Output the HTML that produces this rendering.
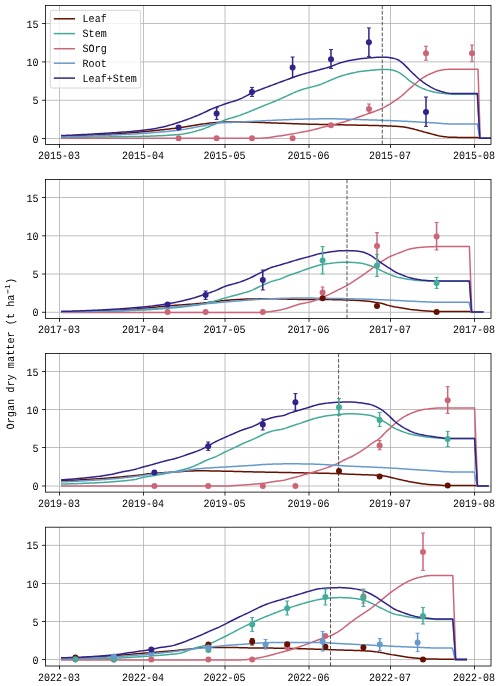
<!DOCTYPE html>
<html lang="en">
<head>
<meta charset="utf-8">
<title>Organ dry matter</title>
<style>
html,body{margin:0;padding:0;background:#fff;}
body{width:500px;height:686px;overflow:hidden;}
svg{display:block;will-change:transform;}
svg text{font-family:"Liberation Mono",monospace;font-size:11.2px;fill:#000;text-rendering:geometricPrecision;}
</style>
</head>
<body>
<svg width="500" height="686" viewBox="0 0 500 686">
<rect width="500" height="686" fill="#fff"/>
<defs>
<clipPath id="c0"><rect x="45.5" y="5.5" width="445.5" height="139"/></clipPath>
<clipPath id="c1"><rect x="45.5" y="179.5" width="445.5" height="138.9"/></clipPath>
<clipPath id="c2"><rect x="45.5" y="353.5" width="445.5" height="138.6"/></clipPath>
<clipPath id="c3"><rect x="45.5" y="527.2" width="445.5" height="138.8"/></clipPath>
</defs>
<!-- panel 1 -->
<path d="M59.5 5.5V144.5M143.5 5.5V144.5M225 5.5V144.5M309 5.5V144.5M390.5 5.5V144.5M474.5 5.5V144.5M45.5 138.5H491M45.5 100.25H491M45.5 61.9H491M45.5 23.5H491" stroke="#b0b0b0" stroke-width="0.8" fill="none"/>
<g clip-path="url(#c0)">
<path d="M61 136.4L62.5 136.36L64.01 136.32L65.51 136.27L67.01 136.22L68.52 136.17L70.02 136.12L71.52 136.07L73.03 136.02L74.53 135.96L76.03 135.9L77.54 135.84L79.04 135.78L80.54 135.72L82.05 135.66L83.55 135.59L85.05 135.52L86.56 135.46L88.06 135.39L89.56 135.32L91.06 135.25L92.57 135.17L94.07 135.1L95.57 135.02L97.08 134.95L98.58 134.87L100.08 134.8L101.59 134.72L103.09 134.64L104.59 134.55L106.1 134.47L107.6 134.38L109.1 134.29L110.61 134.19L112.11 134.1L113.61 134L115.12 133.9L116.62 133.8L118.12 133.7L119.63 133.6L121.13 133.49L122.63 133.38L124.14 133.27L125.64 133.16L127.14 133.04L128.65 132.93L130.15 132.81L131.65 132.69L133.16 132.57L134.66 132.45L136.16 132.32L137.67 132.2L139.17 132.07L140.67 131.94L142.18 131.81L143.68 131.68L145.18 131.54L146.69 131.4L148.19 131.26L149.69 131.11L151.19 130.96L152.7 130.81L154.2 130.66L155.7 130.5L157.21 130.34L158.71 130.18L160.21 130.01L161.72 129.85L163.22 129.68L164.72 129.5L166.23 129.33L167.73 129.15L169.23 128.97L170.74 128.79L172.24 128.6L173.74 128.41L175.25 128.22L176.75 128.03L178.25 127.83L179.76 127.63L181.26 127.43L182.76 127.21L184.27 126.97L185.77 126.73L187.27 126.48L188.78 126.22L190.28 125.96L191.78 125.7L193.29 125.44L194.79 125.19L196.29 124.95L197.8 124.72L199.3 124.5L200.8 124.29L202.31 124.08L203.81 123.88L205.31 123.68L206.82 123.48L208.32 123.29L209.82 123.11L211.32 122.94L212.83 122.79L214.33 122.65L215.83 122.53L217.34 122.41L218.84 122.29L220.34 122.18L221.85 122.09L223.35 122.03L224.85 122L226.36 122L227.86 122L229.36 122L230.87 122L232.37 122L233.87 122L235.38 122L236.88 122L238.38 122L239.89 122L241.39 122L242.89 122.01L244.4 122.03L245.9 122.05L247.4 122.07L248.91 122.1L250.41 122.14L251.91 122.18L253.42 122.22L254.92 122.27L256.42 122.31L257.93 122.37L259.43 122.42L260.93 122.48L262.44 122.53L263.94 122.59L265.44 122.65L266.95 122.71L268.45 122.77L269.95 122.83L271.45 122.89L272.96 122.95L274.46 123.01L275.96 123.06L277.47 123.12L278.97 123.17L280.47 123.22L281.98 123.26L283.48 123.31L284.98 123.37L286.49 123.42L287.99 123.47L289.49 123.53L291 123.58L292.5 123.64L294 123.69L295.51 123.74L297.01 123.8L298.51 123.85L300.02 123.9L301.52 123.95L303.02 124L304.53 124.05L306.03 124.09L307.53 124.14L309.04 124.18L310.54 124.21L312.04 124.25L313.55 124.28L315.05 124.31L316.55 124.34L318.06 124.37L319.56 124.4L321.06 124.43L322.57 124.46L324.07 124.49L325.57 124.51L327.08 124.54L328.58 124.57L330.08 124.6L331.58 124.63L333.09 124.66L334.59 124.69L336.09 124.72L337.6 124.75L339.1 124.78L340.6 124.81L342.11 124.83L343.61 124.86L345.11 124.89L346.62 124.92L348.12 124.95L349.62 124.98L351.13 125.01L352.63 125.04L354.13 125.07L355.64 125.1L357.14 125.14L358.64 125.17L360.15 125.2L361.65 125.24L363.15 125.27L364.66 125.3L366.16 125.34L367.66 125.37L369.17 125.4L370.67 125.44L372.17 125.47L373.68 125.51L375.18 125.54L376.68 125.58L378.19 125.62L379.69 125.66L381.19 125.7L382.7 125.75L384.2 125.79L385.7 125.84L387.21 125.9L388.71 125.95L390.21 126.01L391.71 126.07L393.22 126.14L394.72 126.22L396.22 126.32L397.73 126.42L399.23 126.53L400.73 126.67L402.24 126.85L403.74 127.06L405.24 127.3L406.75 127.57L408.25 127.86L409.75 128.15L411.26 128.47L412.76 128.83L414.26 129.22L415.77 129.63L417.27 130.05L418.77 130.47L420.28 130.87L421.78 131.28L423.28 131.69L424.79 132.1L426.29 132.51L427.79 132.92L429.3 133.32L430.8 133.71L432.3 134.12L433.81 134.54L435.31 134.95L436.81 135.34L438.32 135.68L439.82 135.97L441.32 136.21L442.83 136.45L444.33 136.67L445.83 136.86L447.34 137.03L448.84 137.14L450.34 137.21L451.84 137.26L453.35 137.3L454.85 137.34L456.35 137.37L457.86 137.39L459.36 137.4L460.86 137.4L462.37 137.4L463.87 137.4L465.37 137.4L466.88 137.4L468.38 137.4L469.88 137.4L471.39 137.4L472.89 137.4L474.39 137.4L475.9 137.4L477.4 137.4L477.4 137.4L479.8 138.3L490.8 138.3" stroke="#661100" stroke-width="1.5" fill="none" stroke-linejoin="round"/>
<path d="M61 137.4L62.5 137.39L64.01 137.38L65.51 137.36L67.01 137.35L68.52 137.34L70.02 137.32L71.52 137.31L73.03 137.3L74.53 137.28L76.03 137.27L77.54 137.25L79.04 137.24L80.54 137.22L82.05 137.2L83.55 137.19L85.05 137.17L86.56 137.16L88.06 137.14L89.56 137.12L91.06 137.11L92.57 137.09L94.07 137.07L95.57 137.05L97.08 137.04L98.58 137.02L100.08 137L101.59 136.98L103.09 136.96L104.59 136.95L106.1 136.93L107.6 136.91L109.1 136.89L110.61 136.87L112.11 136.86L113.61 136.84L115.12 136.82L116.62 136.8L118.12 136.78L119.63 136.76L121.13 136.74L122.63 136.72L124.14 136.7L125.64 136.67L127.14 136.65L128.65 136.62L130.15 136.6L131.65 136.57L133.16 136.54L134.66 136.51L136.16 136.48L137.67 136.45L139.17 136.42L140.67 136.38L142.18 136.35L143.68 136.31L145.18 136.27L146.69 136.23L148.19 136.18L149.69 136.13L151.19 136.08L152.7 136.03L154.2 135.97L155.7 135.91L157.21 135.85L158.71 135.78L160.21 135.71L161.72 135.64L163.22 135.56L164.72 135.48L166.23 135.4L167.73 135.31L169.23 135.21L170.74 135.11L172.24 135.01L173.74 134.9L175.25 134.79L176.75 134.67L178.25 134.55L179.76 134.42L181.26 134.27L182.76 134.09L184.27 133.86L185.77 133.59L187.27 133.3L188.78 132.98L190.28 132.63L191.78 132.26L193.29 131.87L194.79 131.47L196.29 131.05L197.8 130.63L199.3 130.2L200.8 129.76L202.31 129.27L203.81 128.74L205.31 128.16L206.82 127.56L208.32 126.94L209.82 126.31L211.32 125.68L212.83 125.07L214.33 124.46L215.83 123.82L217.34 123.16L218.84 122.51L220.34 121.86L221.85 121.23L223.35 120.62L224.85 120.05L226.36 119.53L227.86 119.03L229.36 118.56L230.87 118.11L232.37 117.67L233.87 117.23L235.38 116.78L236.88 116.32L238.38 115.85L239.89 115.34L241.39 114.8L242.89 114.24L244.4 113.66L245.9 113.07L247.4 112.47L248.91 111.86L250.41 111.25L251.91 110.64L253.42 110.02L254.92 109.4L256.42 108.77L257.93 108.14L259.43 107.5L260.93 106.87L262.44 106.24L263.94 105.63L265.44 105.02L266.95 104.42L268.45 103.83L269.95 103.24L271.45 102.65L272.96 102.05L274.46 101.44L275.96 100.81L277.47 100.17L278.97 99.5L280.47 98.82L281.98 98.14L283.48 97.45L284.98 96.76L286.49 96.08L287.99 95.4L289.49 94.73L291 94.04L292.5 93.34L294 92.66L295.51 91.99L297.01 91.34L298.51 90.74L300.02 90.19L301.52 89.7L303.02 89.23L304.53 88.8L306.03 88.4L307.53 88.01L309.04 87.63L310.54 87.26L312.04 86.89L313.55 86.5L315.05 86.1L316.55 85.68L318.06 85.23L319.56 84.75L321.06 84.22L322.57 83.63L324.07 82.99L325.57 82.33L327.08 81.66L328.58 81L330.08 80.37L331.58 79.74L333.09 79.1L334.59 78.47L336.09 77.85L337.6 77.26L339.1 76.71L340.6 76.2L342.11 75.73L343.61 75.28L345.11 74.85L346.62 74.44L348.12 74.05L349.62 73.69L351.13 73.34L352.63 73L354.13 72.68L355.64 72.37L357.14 72.08L358.64 71.82L360.15 71.58L361.65 71.36L363.15 71.16L364.66 70.97L366.16 70.8L367.66 70.63L369.17 70.48L370.67 70.34L372.17 70.19L373.68 70.05L375.18 69.92L376.68 69.8L378.19 69.7L379.69 69.61L381.19 69.54L382.7 69.48L384.2 69.43L385.7 69.4L387.21 69.43L388.71 69.55L390.21 69.74L391.71 69.96L393.22 70.25L394.72 70.69L396.22 71.24L397.73 71.88L399.23 72.63L400.73 73.59L402.24 74.68L403.74 75.81L405.24 76.98L406.75 78.28L408.25 79.59L409.75 80.81L411.26 81.91L412.76 82.95L414.26 83.93L415.77 84.86L417.27 85.75L418.77 86.6L420.28 87.39L421.78 88.1L423.28 88.73L424.79 89.32L426.29 89.87L427.79 90.37L429.3 90.81L430.8 91.2L432.3 91.57L433.81 91.9L435.31 92.22L436.81 92.5L438.32 92.75L439.82 92.98L441.32 93.17L442.83 93.34L444.33 93.5L445.83 93.65L447.34 93.78L448.84 93.91L450.34 94.03L451.84 94.15L453.35 94.2L454.85 94.2L456.35 94.2L457.86 94.2L459.36 94.2L460.86 94.2L462.37 94.2L463.87 94.2L465.37 94.2L466.88 94.2L468.38 94.2L469.88 94.2L471.39 94.2L472.89 94.2L474.39 94.2L475.9 94.2L477.4 94.2L477.4 94.2L479.8 138.3L490.8 138.3" stroke="#44AA99" stroke-width="1.5" fill="none" stroke-linejoin="round"/>
<path d="M61 138.3L62.5 138.3L64 138.3L65.5 138.3L67 138.3L68.5 138.3L70 138.3L71.5 138.3L73 138.3L74.5 138.3L76 138.3L77.5 138.3L79 138.3L80.5 138.3L82 138.3L83.5 138.3L85 138.3L86.5 138.3L88 138.3L89.5 138.3L91 138.3L92.5 138.3L94 138.3L95.5 138.3L97 138.3L98.5 138.3L100 138.3L101.5 138.3L103 138.3L104.5 138.3L106 138.3L107.5 138.3L109 138.3L110.5 138.3L112 138.3L113.5 138.3L115 138.3L116.5 138.3L118 138.3L119.5 138.3L121 138.3L122.5 138.3L124 138.29L125.5 138.29L127 138.29L128.5 138.29L130 138.29L131.5 138.29L133 138.29L134.5 138.29L136 138.29L137.5 138.29L139 138.29L140.5 138.29L142 138.29L143.5 138.29L145 138.29L146.5 138.29L148 138.29L149.5 138.29L151 138.29L152.5 138.29L154 138.29L155.5 138.29L157 138.29L158.5 138.28L160 138.28L161.5 138.28L163 138.28L164.5 138.28L166 138.28L167.5 138.28L169 138.28L170.5 138.28L172 138.28L173.5 138.28L175 138.28L176.5 138.28L178 138.28L179.5 138.27L181 138.27L182.5 138.27L184 138.27L185.5 138.27L187 138.27L188.5 138.27L190 138.27L191.5 138.27L193 138.27L194.5 138.27L196 138.26L197.5 138.26L199 138.26L200.5 138.26L202 138.26L203.5 138.26L205 138.26L206.5 138.26L208 138.26L209.5 138.25L211 138.25L212.5 138.25L214 138.25L215.5 138.25L217 138.25L218.5 138.25L220 138.25L221.5 138.24L223 138.24L224.5 138.24L226 138.24L227.5 138.24L229 138.24L230.5 138.24L232 138.23L233.5 138.23L235 138.23L236.5 138.23L238 138.23L239.5 138.23L241 138.22L242.5 138.22L244 138.22L245.5 138.22L247 138.22L248.5 138.21L250 138.21L251.5 138.21L253 138.21L254.5 138.21L256 138.21L257.5 138.2L259 138.2L260.5 138.2L262 138.16L263.5 138.08L265 137.97L266.5 137.82L268 137.65L269.5 137.46L271 137.25L272.5 137.03L274 136.8L275.5 136.57L277 136.34L278.5 136.11L280 135.9L281.5 135.68L283 135.45L284.5 135.21L286 134.95L287.5 134.69L289 134.43L290.5 134.16L292 133.9L293.5 133.64L295 133.38L296.5 133.13L298 132.87L299.5 132.61L301 132.35L302.5 132.08L304 131.81L305.5 131.52L307 131.23L308.5 130.92L310 130.6L311.5 130.25L313 129.88L314.5 129.49L316 129.08L317.5 128.67L319 128.26L320.5 127.87L322 127.48L323.5 127.08L325 126.69L326.5 126.29L328 125.91L329.5 125.53L331 125.15L332.5 124.8L334 124.45L335.5 124.11L337 123.75L338.5 123.39L340 123L341.5 122.59L343 122.16L344.5 121.72L346 121.26L347.5 120.79L349 120.32L350.5 119.84L352 119.35L353.5 118.85L355 118.34L356.5 117.82L358 117.3L359.5 116.77L361 116.25L362.5 115.72L364 115.18L365.5 114.64L367 114.09L368.5 113.55L370 113L371.5 112.46L373 111.94L374.5 111.42L376 110.88L377.5 110.32L379 109.72L380.5 109.08L382 108.38L383.5 107.64L385 106.85L386.5 106.03L388 105.17L389.5 104.3L391 103.4L392.5 102.46L394 101.49L395.5 100.48L397 99.43L398.5 98.33L400 97.2L401.5 95.99L403 94.69L404.5 93.33L406 91.94L407.5 90.55L409 89.18L410.5 87.87L412 86.57L413.5 85.29L415 84.03L416.5 82.78L418 81.52L419.5 80.26L421 79.1L422.5 78.07L424 77.14L425.5 76.26L427 75.44L428.5 74.69L430 74L431.5 73.34L433 72.69L434.5 72.07L436 71.51L437.5 71.01L439 70.61L440.5 70.31L442 70.04L443.5 69.8L445 69.58L446.5 69.39L448 69.27L449.5 69.2L451 69.2L452.5 69.2L454 69.2L455.5 69.2L457 69.2L458.5 69.2L460 69.2L461.5 69.2L463 69.2L464.5 69.2L466 69.2L467.5 69.2L469 69.2L470.5 69.2L472 69.2L473.5 69.2L475 69.2L476.5 69.2L478 69.2L478 69.2L480.2 138.3L490.8 138.3" stroke="#CC6677" stroke-width="1.5" fill="none" stroke-linejoin="round"/>
<path d="M61 136.8L62.5 136.77L64.01 136.73L65.51 136.7L67.01 136.66L68.52 136.62L70.02 136.58L71.52 136.54L73.03 136.5L74.53 136.46L76.03 136.42L77.54 136.37L79.04 136.33L80.54 136.28L82.05 136.23L83.55 136.18L85.05 136.13L86.56 136.08L88.06 136.03L89.56 135.98L91.06 135.93L92.57 135.88L94.07 135.82L95.57 135.77L97.08 135.71L98.58 135.65L100.08 135.6L101.59 135.54L103.09 135.48L104.59 135.42L106.1 135.36L107.6 135.3L109.1 135.23L110.61 135.17L112.11 135.1L113.61 135.03L115.12 134.96L116.62 134.89L118.12 134.82L119.63 134.75L121.13 134.67L122.63 134.6L124.14 134.52L125.64 134.44L127.14 134.36L128.65 134.28L130.15 134.19L131.65 134.11L133.16 134.02L134.66 133.93L136.16 133.84L137.67 133.75L139.17 133.65L140.67 133.56L142.18 133.46L143.68 133.36L145.18 133.25L146.69 133.15L148.19 133.04L149.69 132.93L151.19 132.82L152.7 132.7L154.2 132.59L155.7 132.47L157.21 132.34L158.71 132.21L160.21 132.08L161.72 131.95L163.22 131.81L164.72 131.67L166.23 131.52L167.73 131.38L169.23 131.22L170.74 131.07L172.24 130.9L173.74 130.74L175.25 130.57L176.75 130.39L178.25 130.21L179.76 130.03L181.26 129.83L182.76 129.61L184.27 129.37L185.77 129.12L187.27 128.85L188.78 128.56L190.28 128.27L191.78 127.97L193.29 127.68L194.79 127.38L196.29 127.09L197.8 126.8L199.3 126.52L200.8 126.26L202.31 125.98L203.81 125.69L205.31 125.39L206.82 125.09L208.32 124.78L209.82 124.49L211.32 124.21L212.83 123.94L214.33 123.69L215.83 123.46L217.34 123.27L218.84 123.1L220.34 122.97L221.85 122.87L223.35 122.77L224.85 122.68L226.36 122.6L227.86 122.53L229.36 122.46L230.87 122.39L232.37 122.33L233.87 122.27L235.38 122.21L236.88 122.14L238.38 122.08L239.89 122.01L241.39 121.93L242.89 121.85L244.4 121.78L245.9 121.7L247.4 121.62L248.91 121.55L250.41 121.47L251.91 121.39L253.42 121.31L254.92 121.23L256.42 121.15L257.93 121.08L259.43 121L260.93 120.92L262.44 120.84L263.94 120.77L265.44 120.69L266.95 120.62L268.45 120.54L269.95 120.47L271.45 120.4L272.96 120.32L274.46 120.25L275.96 120.18L277.47 120.11L278.97 120.05L280.47 119.98L281.98 119.91L283.48 119.84L284.98 119.77L286.49 119.7L287.99 119.63L289.49 119.56L291 119.5L292.5 119.44L294 119.38L295.51 119.32L297.01 119.28L298.51 119.23L300.02 119.2L301.52 119.17L303.02 119.14L304.53 119.11L306.03 119.08L307.53 119.05L309.04 119.02L310.54 118.99L312.04 118.97L313.55 118.94L315.05 118.92L316.55 118.9L318.06 118.88L319.56 118.86L321.06 118.85L322.57 118.83L324.07 118.82L325.57 118.81L327.08 118.81L328.58 118.8L330.08 118.8L331.58 118.8L333.09 118.82L334.59 118.83L336.09 118.86L337.6 118.89L339.1 118.92L340.6 118.96L342.11 119L343.61 119.04L345.11 119.09L346.62 119.14L348.12 119.19L349.62 119.25L351.13 119.3L352.63 119.35L354.13 119.41L355.64 119.46L357.14 119.51L358.64 119.56L360.15 119.6L361.65 119.65L363.15 119.69L364.66 119.74L366.16 119.78L367.66 119.83L369.17 119.88L370.67 119.92L372.17 119.97L373.68 120.02L375.18 120.07L376.68 120.12L378.19 120.17L379.69 120.22L381.19 120.27L382.7 120.33L384.2 120.38L385.7 120.43L387.21 120.49L388.71 120.55L390.21 120.61L391.71 120.67L393.22 120.73L394.72 120.8L396.22 120.86L397.73 120.93L399.23 121L400.73 121.07L402.24 121.14L403.74 121.21L405.24 121.28L406.75 121.36L408.25 121.43L409.75 121.51L411.26 121.59L412.76 121.66L414.26 121.74L415.77 121.82L417.27 121.9L418.77 121.98L420.28 122.07L421.78 122.15L423.28 122.23L424.79 122.31L426.29 122.39L427.79 122.48L429.3 122.56L430.8 122.65L432.3 122.74L433.81 122.85L435.31 122.96L436.81 123.08L438.32 123.2L439.82 123.33L441.32 123.45L442.83 123.56L444.33 123.67L445.83 123.76L447.34 123.85L448.84 123.91L450.34 123.96L451.84 123.99L453.35 124L454.85 124L456.35 124L457.86 124L459.36 124L460.86 124L462.37 124L463.87 124L465.37 124L466.88 124L468.38 124L469.88 124L471.39 124L472.89 124L474.39 124L475.9 124L477.4 124L477.4 124L479.8 138.3L490.8 138.3" stroke="#6699CC" stroke-width="1.5" fill="none" stroke-linejoin="round"/>
<path d="M61 135.6L62.5 135.54L64.01 135.48L65.51 135.41L67.01 135.35L68.52 135.28L70.02 135.22L71.52 135.15L73.03 135.08L74.53 135L76.03 134.93L77.54 134.85L79.04 134.78L80.54 134.7L82.05 134.62L83.55 134.54L85.05 134.46L86.56 134.38L88.06 134.3L89.56 134.21L91.06 134.13L92.57 134.04L94.07 133.95L95.57 133.87L97.08 133.78L98.58 133.69L100.08 133.59L101.59 133.5L103.09 133.41L104.59 133.32L106.1 133.23L107.6 133.13L109.1 133.04L110.61 132.95L112.11 132.85L113.61 132.75L115.12 132.65L116.62 132.55L118.12 132.45L119.63 132.34L121.13 132.23L122.63 132.12L124.14 132.01L125.64 131.89L127.14 131.77L128.65 131.65L130.15 131.53L131.65 131.4L133.16 131.26L134.66 131.12L136.16 130.98L137.67 130.84L139.17 130.69L140.67 130.53L142.18 130.36L143.68 130.19L145.18 130L146.69 129.8L148.19 129.59L149.69 129.37L151.19 129.15L152.7 128.91L154.2 128.66L155.7 128.4L157.21 128.13L158.71 127.85L160.21 127.56L161.72 127.25L163.22 126.91L164.72 126.55L166.23 126.16L167.73 125.76L169.23 125.34L170.74 124.9L172.24 124.45L173.74 123.99L175.25 123.52L176.75 123.04L178.25 122.56L179.76 122.08L181.26 121.59L182.76 121.08L184.27 120.56L185.77 120.02L187.27 119.47L188.78 118.91L190.28 118.34L191.78 117.75L193.29 117.16L194.79 116.55L196.29 115.94L197.8 115.32L199.3 114.69L200.8 114.06L202.31 113.38L203.81 112.68L205.31 111.96L206.82 111.23L208.32 110.5L209.82 109.79L211.32 109.11L212.83 108.47L214.33 107.87L215.83 107.28L217.34 106.72L218.84 106.17L220.34 105.63L221.85 105.1L223.35 104.58L224.85 104.05L226.36 103.54L227.86 103.05L229.36 102.57L230.87 102.11L232.37 101.64L233.87 101.17L235.38 100.68L236.88 100.17L238.38 99.63L239.89 99.05L241.39 98.4L242.89 97.69L244.4 96.92L245.9 96.12L247.4 95.32L248.91 94.52L250.41 93.75L251.91 93.04L253.42 92.38L254.92 91.75L256.42 91.13L257.93 90.53L259.43 89.94L260.93 89.36L262.44 88.79L263.94 88.22L265.44 87.65L266.95 87.09L268.45 86.52L269.95 85.95L271.45 85.39L272.96 84.83L274.46 84.27L275.96 83.71L277.47 83.16L278.97 82.6L280.47 82.05L281.98 81.5L283.48 80.95L284.98 80.4L286.49 79.85L287.99 79.3L289.49 78.75L291 78.19L292.5 77.63L294 77.07L295.51 76.52L297.01 75.99L298.51 75.48L300.02 74.99L301.52 74.54L303.02 74.1L304.53 73.67L306.03 73.26L307.53 72.85L309.04 72.46L310.54 72.07L312.04 71.68L313.55 71.3L315.05 70.91L316.55 70.52L318.06 70.13L319.56 69.72L321.06 69.31L322.57 68.91L324.07 68.51L325.57 68.1L327.08 67.68L328.58 67.24L330.08 66.77L331.58 66.25L333.09 65.66L334.59 65.05L336.09 64.43L337.6 63.84L339.1 63.29L340.6 62.81L342.11 62.37L343.61 61.94L345.11 61.53L346.62 61.15L348.12 60.8L349.62 60.48L351.13 60.18L352.63 59.91L354.13 59.65L355.64 59.41L357.14 59.18L358.64 58.97L360.15 58.78L361.65 58.6L363.15 58.43L364.66 58.27L366.16 58.13L367.66 57.99L369.17 57.86L370.67 57.75L372.17 57.63L373.68 57.51L375.18 57.39L376.68 57.3L378.19 57.23L379.69 57.2L381.19 57.2L382.7 57.2L384.2 57.2L385.7 57.2L387.21 57.25L388.71 57.42L390.21 57.67L391.71 57.95L393.22 58.25L394.72 58.63L396.22 59.11L397.73 59.68L399.23 60.48L400.73 61.58L402.24 62.79L403.74 64.15L405.24 65.64L406.75 67.15L408.25 68.64L409.75 70.17L411.26 71.7L412.76 73.21L414.26 74.65L415.77 76.06L417.27 77.44L418.77 78.77L420.28 80.03L421.78 81.19L423.28 82.3L424.79 83.34L426.29 84.33L427.79 85.27L429.3 86.18L430.8 87.06L432.3 87.89L433.81 88.65L435.31 89.33L436.81 89.95L438.32 90.53L439.82 91.05L441.32 91.51L442.83 91.92L444.33 92.3L445.83 92.64L447.34 92.94L448.84 93.18L450.34 93.38L451.84 93.55L453.35 93.6L454.85 93.6L456.35 93.6L457.86 93.6L459.36 93.6L460.86 93.6L462.37 93.6L463.87 93.6L465.37 93.6L466.88 93.6L468.38 93.6L469.88 93.6L471.39 93.6L472.89 93.6L474.39 93.6L475.9 93.6L477.4 93.6L477.4 93.6L479.8 138.3L490.8 138.3" stroke="#332288" stroke-width="1.5" fill="none" stroke-linejoin="round"/>
<path d="M382.25 5.5V144.5" stroke="#555" stroke-width="1" stroke-dasharray="3.75 1.65" fill="none"/>
<circle cx="178.6" cy="138.3" r="3" fill="#CC6677"/>
<circle cx="216.6" cy="138.3" r="3" fill="#CC6677"/>
<circle cx="252" cy="138.3" r="3" fill="#CC6677"/>
<circle cx="292.6" cy="138.3" r="3" fill="#CC6677"/>
<circle cx="331" cy="125.2" r="3" fill="#CC6677"/>
<path d="M369 104V113.4" stroke="#CC6677" stroke-width="1.5" fill="none"/><path d="M367 104h4M367 113.4h4" stroke="#CC6677" stroke-width="1" fill="none"/>
<circle cx="369" cy="109" r="3" fill="#CC6677"/>
<path d="M426 46.2V60.2" stroke="#CC6677" stroke-width="1.5" fill="none"/><path d="M424 46.2h4M424 60.2h4" stroke="#CC6677" stroke-width="1" fill="none"/>
<circle cx="426" cy="53.2" r="3" fill="#CC6677"/>
<path d="M472 45V61.6" stroke="#CC6677" stroke-width="1.5" fill="none"/><path d="M470 45h4M470 61.6h4" stroke="#CC6677" stroke-width="1" fill="none"/>
<circle cx="472" cy="53.2" r="3" fill="#CC6677"/>
<circle cx="178.6" cy="127.4" r="3" fill="#332288"/>
<path d="M216.6 107.6V119.4" stroke="#332288" stroke-width="1.5" fill="none"/><path d="M214.6 107.6h4M214.6 119.4h4" stroke="#332288" stroke-width="1" fill="none"/>
<circle cx="216.6" cy="113.6" r="3" fill="#332288"/>
<path d="M252 87.4V96.4" stroke="#332288" stroke-width="1.5" fill="none"/><path d="M250 87.4h4M250 96.4h4" stroke="#332288" stroke-width="1" fill="none"/>
<circle cx="252" cy="92" r="3" fill="#332288"/>
<path d="M292.6 57V77.6" stroke="#332288" stroke-width="1.5" fill="none"/><path d="M290.6 57h4M290.6 77.6h4" stroke="#332288" stroke-width="1" fill="none"/>
<circle cx="292.6" cy="67.4" r="3" fill="#332288"/>
<path d="M331 49.6V68.4" stroke="#332288" stroke-width="1.5" fill="none"/><path d="M329 49.6h4M329 68.4h4" stroke="#332288" stroke-width="1" fill="none"/>
<circle cx="331" cy="59.2" r="3" fill="#332288"/>
<path d="M368.9 27.9V56.4" stroke="#332288" stroke-width="1.5" fill="none"/><path d="M366.9 27.9h4M366.9 56.4h4" stroke="#332288" stroke-width="1" fill="none"/>
<circle cx="368.9" cy="42.3" r="3" fill="#332288"/>
<path d="M426 97V126.4" stroke="#332288" stroke-width="1.5" fill="none"/><path d="M424 97h4M424 126.4h4" stroke="#332288" stroke-width="1" fill="none"/>
<circle cx="426" cy="112" r="3" fill="#332288"/>
</g>
<rect x="45.5" y="5.5" width="445.5" height="139" fill="none" stroke="#000" stroke-width="0.8"/>
<path d="M59.5 144.5v3.5M143.5 144.5v3.5M225 144.5v3.5M309 144.5v3.5M390.5 144.5v3.5M474.5 144.5v3.5M45.5 138.5h-3.5M45.5 100.25h-3.5M45.5 61.9h-3.5M45.5 23.5h-3.5" stroke="#000" stroke-width="0.8" fill="none"/>
<text transform="translate(59 159.3) scale(0.896 1)" text-anchor="middle">2015-03</text>
<text transform="translate(143 159.3) scale(0.896 1)" text-anchor="middle">2015-04</text>
<text transform="translate(224.5 159.3) scale(0.896 1)" text-anchor="middle">2015-05</text>
<text transform="translate(308.5 159.3) scale(0.896 1)" text-anchor="middle">2015-06</text>
<text transform="translate(390 159.3) scale(0.896 1)" text-anchor="middle">2015-07</text>
<text transform="translate(474 159.3) scale(0.896 1)" text-anchor="middle">2015-08</text>
<text transform="translate(38.5 142.6) scale(0.896 1)" text-anchor="end">0</text>
<text transform="translate(38.5 104.35) scale(0.896 1)" text-anchor="end">5</text>
<text transform="translate(38.5 66) scale(0.896 1)" text-anchor="end">10</text>
<text transform="translate(38.5 27.6) scale(0.896 1)" text-anchor="end">15</text>
<!-- panel 2 -->
<path d="M59.5 179.5V318.4M143.5 179.5V318.4M225 179.5V318.4M309 179.5V318.4M390.5 179.5V318.4M474.5 179.5V318.4M45.5 312.3H491M45.5 274H491M45.5 235.8H491M45.5 197.5H491" stroke="#b0b0b0" stroke-width="0.8" fill="none"/>
<g clip-path="url(#c1)">
<path d="M61 311.7L62.5 311.7L64 311.69L65.5 311.69L67.01 311.68L68.51 311.66L70.01 311.65L71.51 311.63L73.01 311.61L74.51 311.59L76.01 311.57L77.52 311.54L79.02 311.51L80.52 311.48L82.02 311.45L83.52 311.42L85.02 311.39L86.53 311.35L88.03 311.32L89.53 311.28L91.03 311.24L92.53 311.2L94.03 311.16L95.53 311.12L97.04 311.08L98.54 311.04L100.04 311L101.54 310.96L103.04 310.91L104.54 310.85L106.04 310.79L107.55 310.73L109.05 310.66L110.55 310.59L112.05 310.52L113.55 310.44L115.05 310.36L116.55 310.27L118.06 310.18L119.56 310.09L121.06 310L122.56 309.9L124.06 309.8L125.56 309.7L127.06 309.59L128.57 309.49L130.07 309.38L131.57 309.27L133.07 309.16L134.57 309.04L136.07 308.93L137.57 308.82L139.08 308.7L140.58 308.59L142.08 308.47L143.58 308.35L145.08 308.23L146.58 308.1L148.09 307.95L149.59 307.81L151.09 307.65L152.59 307.49L154.09 307.33L155.59 307.17L157.09 307.01L158.6 306.84L160.1 306.68L161.6 306.52L163.1 306.37L164.6 306.22L166.1 306.08L167.6 305.95L169.11 305.82L170.61 305.69L172.11 305.57L173.61 305.46L175.11 305.34L176.61 305.23L178.11 305.12L179.62 305.01L181.12 304.91L182.62 304.8L184.12 304.69L185.62 304.58L187.12 304.47L188.62 304.36L190.13 304.25L191.63 304.13L193.13 304.01L194.63 303.89L196.13 303.76L197.63 303.62L199.14 303.48L200.64 303.34L202.14 303.18L203.64 303.01L205.14 302.82L206.64 302.64L208.14 302.45L209.65 302.25L211.15 302.06L212.65 301.88L214.15 301.7L215.65 301.53L217.15 301.35L218.65 301.17L220.16 300.99L221.66 300.82L223.16 300.64L224.66 300.48L226.16 300.33L227.66 300.19L229.16 300.06L230.67 299.95L232.17 299.85L233.67 299.75L235.17 299.65L236.67 299.56L238.17 299.47L239.68 299.39L241.18 299.31L242.68 299.24L244.18 299.17L245.68 299.11L247.18 299.06L248.68 299.03L250.19 299L251.69 298.97L253.19 298.95L254.69 298.93L256.19 298.91L257.69 298.89L259.19 298.87L260.7 298.85L262.2 298.84L263.7 298.82L265.2 298.81L266.7 298.81L268.2 298.8L269.7 298.8L271.21 298.8L272.71 298.81L274.21 298.83L275.71 298.85L277.21 298.87L278.71 298.9L280.21 298.94L281.72 298.98L283.22 299.01L284.72 299.05L286.22 299.1L287.72 299.14L289.22 299.18L290.73 299.22L292.23 299.26L293.73 299.29L295.23 299.33L296.73 299.35L298.23 299.38L299.73 299.4L301.24 299.41L302.74 299.42L304.24 299.44L305.74 299.45L307.24 299.46L308.74 299.47L310.24 299.47L311.75 299.48L313.25 299.49L314.75 299.5L316.25 299.5L317.75 299.51L319.25 299.52L320.75 299.53L322.26 299.54L323.76 299.55L325.26 299.56L326.76 299.57L328.26 299.58L329.76 299.6L331.26 299.62L332.77 299.64L334.27 299.66L335.77 299.69L337.27 299.72L338.77 299.76L340.27 299.8L341.77 299.84L343.28 299.88L344.78 299.93L346.28 299.98L347.78 300.03L349.28 300.08L350.78 300.14L352.29 300.2L353.79 300.26L355.29 300.33L356.79 300.41L358.29 300.49L359.79 300.58L361.29 300.68L362.8 300.78L364.3 300.89L365.8 301.01L367.3 301.14L368.8 301.28L370.3 301.43L371.8 301.68L373.31 301.98L374.81 302.27L376.31 302.48L377.81 302.67L379.31 302.88L380.81 303.17L382.31 303.56L383.82 304.02L385.32 304.51L386.82 304.97L388.32 305.38L389.82 305.76L391.32 306.13L392.82 306.47L394.33 306.78L395.83 307.03L397.33 307.24L398.83 307.43L400.33 307.65L401.83 307.91L403.34 308.2L404.84 308.5L406.34 308.8L407.84 309.07L409.34 309.31L410.84 309.51L412.34 309.68L413.85 309.84L415.35 309.98L416.85 310.12L418.35 310.25L419.85 310.39L421.35 310.52L422.85 310.65L424.36 310.77L425.86 310.89L427.36 311L428.86 311.12L430.36 311.23L431.86 311.36L433.36 311.48L434.87 311.58L436.37 311.6L437.87 311.6L439.37 311.6L440.87 311.6L442.37 311.6L443.88 311.6L445.38 311.6L446.88 311.6L448.38 311.6L449.88 311.6L451.38 311.6L452.88 311.6L454.39 311.6L455.89 311.6L457.39 311.6L458.89 311.6L460.39 311.6L461.89 311.6L463.39 311.6L464.9 311.6L466.4 311.6L467.9 311.6L469.4 311.6L469.4 311.6L471.6 312L483.4 312" stroke="#661100" stroke-width="1.5" fill="none" stroke-linejoin="round"/>
<path d="M61 311.9L62.5 311.9L64 311.9L65.5 311.89L67.01 311.89L68.51 311.89L70.01 311.88L71.51 311.87L73.01 311.86L74.51 311.86L76.01 311.85L77.52 311.84L79.02 311.82L80.52 311.81L82.02 311.8L83.52 311.78L85.02 311.77L86.53 311.76L88.03 311.74L89.53 311.72L91.03 311.71L92.53 311.69L94.03 311.67L95.53 311.66L97.04 311.64L98.54 311.62L100.04 311.6L101.54 311.58L103.04 311.55L104.54 311.53L106.04 311.49L107.55 311.46L109.05 311.42L110.55 311.38L112.05 311.33L113.55 311.29L115.05 311.24L116.55 311.18L118.06 311.13L119.56 311.07L121.06 311.01L122.56 310.95L124.06 310.89L125.56 310.83L127.06 310.76L128.57 310.69L130.07 310.62L131.57 310.55L133.07 310.48L134.57 310.41L136.07 310.34L137.57 310.27L139.08 310.19L140.58 310.12L142.08 310.05L143.58 309.97L145.08 309.89L146.58 309.81L148.09 309.73L149.59 309.64L151.09 309.55L152.59 309.46L154.09 309.36L155.59 309.26L157.09 309.16L158.6 309.05L160.1 308.94L161.6 308.83L163.1 308.71L164.6 308.6L166.1 308.47L167.6 308.35L169.11 308.22L170.61 308.09L172.11 307.96L173.61 307.82L175.11 307.68L176.61 307.54L178.11 307.39L179.62 307.24L181.12 307.09L182.62 306.93L184.12 306.76L185.62 306.59L187.12 306.41L188.62 306.22L190.13 306.03L191.63 305.84L193.13 305.63L194.63 305.42L196.13 305.2L197.63 304.97L199.14 304.74L200.64 304.49L202.14 304.22L203.64 303.91L205.14 303.57L206.64 303.21L208.14 302.83L209.65 302.44L211.15 302.04L212.65 301.64L214.15 301.23L215.65 300.82L217.15 300.39L218.65 299.94L220.16 299.47L221.66 299L223.16 298.54L224.66 298.1L226.16 297.67L227.66 297.27L229.16 296.87L230.67 296.47L232.17 296.09L233.67 295.7L235.17 295.31L236.67 294.91L238.17 294.51L239.68 294.09L241.18 293.67L242.68 293.25L244.18 292.83L245.68 292.4L247.18 291.95L248.68 291.46L250.19 290.93L251.69 290.33L253.19 289.67L254.69 288.96L256.19 288.22L257.69 287.49L259.19 286.77L260.7 286.08L262.2 285.39L263.7 284.69L265.2 283.99L266.7 283.32L268.2 282.69L269.7 282.11L271.21 281.59L272.71 281.13L274.21 280.7L275.71 280.29L277.21 279.87L278.71 279.42L280.21 278.93L281.72 278.37L283.22 277.77L284.72 277.15L286.22 276.52L287.72 275.89L289.22 275.29L290.73 274.74L292.23 274.21L293.73 273.7L295.23 273.2L296.73 272.71L298.23 272.21L299.73 271.69L301.24 271.16L302.74 270.61L304.24 270.05L305.74 269.5L307.24 268.95L308.74 268.42L310.24 267.92L311.75 267.42L313.25 266.92L314.75 266.43L316.25 265.97L317.75 265.54L319.25 265.16L320.75 264.85L322.26 264.56L323.76 264.29L325.26 264.05L326.76 263.83L328.26 263.62L329.76 263.43L331.26 263.24L332.77 263.06L334.27 262.88L335.77 262.72L337.27 262.58L338.77 262.47L340.27 262.39L341.77 262.33L343.28 262.27L344.78 262.23L346.28 262.2L347.78 262.21L349.28 262.25L350.78 262.32L352.29 262.41L353.79 262.51L355.29 262.62L356.79 262.74L358.29 262.9L359.79 263.08L361.29 263.29L362.8 263.55L364.3 263.9L365.8 264.32L367.3 264.78L368.8 265.25L370.3 265.77L371.8 266.32L373.31 266.9L374.81 267.52L376.31 268.19L377.81 268.92L379.31 269.66L380.81 270.39L382.31 271.12L383.82 271.85L385.32 272.55L386.82 273.23L388.32 273.89L389.82 274.53L391.32 275.14L392.82 275.75L394.33 276.29L395.83 276.73L397.33 277.11L398.83 277.45L400.33 277.77L401.83 278.08L403.34 278.38L404.84 278.66L406.34 278.93L407.84 279.18L409.34 279.41L410.84 279.61L412.34 279.82L413.85 280.01L415.35 280.19L416.85 280.35L418.35 280.48L419.85 280.59L421.35 280.67L422.85 280.74L424.36 280.8L425.86 280.86L427.36 280.91L428.86 280.96L430.36 281.01L431.86 281.08L433.36 281.14L434.87 281.19L436.37 281.2L437.87 281.2L439.37 281.2L440.87 281.2L442.37 281.2L443.88 281.2L445.38 281.2L446.88 281.2L448.38 281.2L449.88 281.2L451.38 281.2L452.88 281.2L454.39 281.2L455.89 281.2L457.39 281.2L458.89 281.2L460.39 281.2L461.89 281.2L463.39 281.2L464.9 281.2L466.4 281.2L467.9 281.2L469.4 281.2L469.4 281.2L471.6 312L483.4 312" stroke="#44AA99" stroke-width="1.5" fill="none" stroke-linejoin="round"/>
<path d="M61 312.4L62.5 312.4L64 312.4L65.5 312.4L67.01 312.4L68.51 312.4L70.01 312.4L71.51 312.4L73.01 312.4L74.51 312.4L76.01 312.4L77.52 312.4L79.02 312.4L80.52 312.4L82.02 312.4L83.52 312.4L85.02 312.4L86.53 312.4L88.03 312.4L89.53 312.4L91.03 312.4L92.53 312.4L94.03 312.4L95.53 312.4L97.04 312.4L98.54 312.4L100.04 312.4L101.54 312.4L103.04 312.4L104.54 312.4L106.04 312.4L107.55 312.4L109.05 312.4L110.55 312.4L112.05 312.4L113.55 312.4L115.05 312.4L116.55 312.4L118.06 312.4L119.56 312.4L121.06 312.4L122.56 312.4L124.06 312.4L125.56 312.4L127.06 312.4L128.57 312.4L130.07 312.4L131.57 312.4L133.07 312.4L134.57 312.4L136.07 312.4L137.57 312.4L139.08 312.4L140.58 312.4L142.08 312.4L143.58 312.4L145.08 312.4L146.58 312.4L148.09 312.4L149.59 312.4L151.09 312.4L152.59 312.4L154.09 312.4L155.59 312.4L157.09 312.4L158.6 312.4L160.1 312.4L161.6 312.4L163.1 312.4L164.6 312.4L166.1 312.4L167.6 312.4L169.11 312.4L170.61 312.4L172.11 312.4L173.61 312.4L175.11 312.4L176.61 312.4L178.11 312.4L179.62 312.4L181.12 312.4L182.62 312.4L184.12 312.4L185.62 312.4L187.12 312.4L188.62 312.4L190.13 312.4L191.63 312.4L193.13 312.4L194.63 312.4L196.13 312.4L197.63 312.4L199.14 312.4L200.64 312.4L202.14 312.4L203.64 312.4L205.14 312.4L206.64 312.4L208.14 312.4L209.65 312.4L211.15 312.4L212.65 312.4L214.15 312.4L215.65 312.4L217.15 312.4L218.65 312.4L220.16 312.4L221.66 312.4L223.16 312.4L224.66 312.4L226.16 312.4L227.66 312.4L229.16 312.4L230.67 312.4L232.17 312.4L233.67 312.4L235.17 312.4L236.67 312.4L238.17 312.4L239.68 312.4L241.18 312.4L242.68 312.4L244.18 312.4L245.68 312.4L247.18 312.4L248.68 312.4L250.19 312.4L251.69 312.4L253.19 312.4L254.69 312.4L256.19 312.4L257.69 312.4L259.19 312.4L260.7 312.4L262.2 312.4L263.7 312.34L265.2 312.21L266.7 312.03L268.2 311.83L269.7 311.64L271.21 311.45L272.71 311.24L274.21 311.02L275.71 310.78L277.21 310.53L278.71 310.25L280.21 309.96L281.72 309.62L283.22 309.25L284.72 308.85L286.22 308.42L287.72 307.98L289.22 307.53L290.73 307.08L292.23 306.58L293.73 306.05L295.23 305.51L296.73 304.98L298.23 304.49L299.73 304.07L301.24 303.71L302.74 303.41L304.24 303.14L305.74 302.88L307.24 302.61L308.74 302.3L310.24 301.94L311.75 301.5L313.25 301.01L314.75 300.47L316.25 299.89L317.75 299.3L319.25 298.7L320.75 298.1L322.26 297.48L323.76 296.84L325.26 296.17L326.76 295.5L328.26 294.81L329.76 294.11L331.26 293.4L332.77 292.67L334.27 291.92L335.77 291.16L337.27 290.39L338.77 289.63L340.27 288.86L341.77 288.11L343.28 287.36L344.78 286.6L346.28 285.8L347.78 284.95L349.28 284.06L350.78 283.13L352.29 282.17L353.79 281.18L355.29 280.18L356.79 279.17L358.29 278.15L359.79 277.14L361.29 276.12L362.8 275.09L364.3 274.05L365.8 273L367.3 271.93L368.8 270.86L370.3 269.78L371.8 268.67L373.31 267.53L374.81 266.38L376.31 265.24L377.81 264.12L379.31 263.06L380.81 262.06L382.31 261.08L383.82 260.11L385.32 259.18L386.82 258.29L388.32 257.45L389.82 256.69L391.32 255.99L392.82 255.34L394.33 254.74L395.83 254.16L397.33 253.6L398.83 253.04L400.33 252.47L401.83 251.88L403.34 251.27L404.84 250.67L406.34 250.1L407.84 249.59L409.34 249.16L410.84 248.82L412.34 248.51L413.85 248.23L415.35 247.98L416.85 247.75L418.35 247.57L419.85 247.41L421.35 247.29L422.85 247.18L424.36 247.08L425.86 247L427.36 246.92L428.86 246.85L430.36 246.78L431.86 246.72L433.36 246.65L434.87 246.61L436.37 246.6L437.87 246.6L439.37 246.6L440.87 246.6L442.37 246.6L443.88 246.6L445.38 246.6L446.88 246.6L448.38 246.6L449.88 246.6L451.38 246.6L452.88 246.6L454.39 246.6L455.89 246.6L457.39 246.6L458.89 246.6L460.39 246.6L461.89 246.6L463.39 246.6L464.9 246.6L466.4 246.6L467.9 246.6L469.4 246.6L469.4 246.6L471.8 312L483.4 312" stroke="#CC6677" stroke-width="1.5" fill="none" stroke-linejoin="round"/>
<path d="M61 311.8L62.5 311.8L64 311.8L65.5 311.79L67 311.79L68.5 311.78L70 311.77L71.5 311.76L73 311.75L74.5 311.74L76 311.73L77.5 311.71L79 311.7L80.5 311.68L82 311.66L83.5 311.65L85 311.63L86.5 311.61L88 311.59L89.5 311.56L91 311.54L92.5 311.52L94 311.5L95.5 311.47L97 311.45L98.5 311.42L100 311.4L101.5 311.37L103 311.34L104.5 311.3L106 311.26L107.5 311.22L109 311.17L110.5 311.11L112 311.06L113.5 311L115 310.93L116.5 310.87L118 310.8L119.5 310.73L121 310.65L122.5 310.57L124 310.5L125.5 310.42L127 310.33L128.5 310.25L130 310.16L131.5 310.08L133 309.99L134.5 309.9L136 309.81L137.5 309.73L139 309.64L140.5 309.55L142 309.46L143.5 309.37L145 309.28L146.5 309.18L148 309.08L149.5 308.98L151 308.87L152.5 308.76L154 308.65L155.5 308.54L157 308.42L158.5 308.3L160 308.18L161.5 308.06L163 307.93L164.5 307.81L166 307.68L167.5 307.56L169 307.43L170.5 307.3L172 307.16L173.5 307.02L175 306.88L176.5 306.74L178 306.6L179.5 306.45L181 306.3L182.5 306.15L184 306L185.5 305.85L187 305.7L188.5 305.55L190 305.39L191.5 305.24L193 305.09L194.5 304.94L196 304.79L197.5 304.64L199 304.5L200.5 304.35L202 304.21L203.5 304.06L205 303.91L206.5 303.76L208 303.62L209.5 303.47L211 303.32L212.5 303.17L214 303.02L215.5 302.88L217 302.73L218.5 302.59L220 302.45L221.5 302.31L223 302.18L224.5 302.04L226 301.91L227.5 301.78L229 301.65L230.5 301.52L232 301.4L233.5 301.27L235 301.15L236.5 301.02L238 300.9L239.5 300.78L241 300.66L242.5 300.55L244 300.43L245.5 300.32L247 300.21L248.5 300.1L250 300L251.5 299.9L253 299.79L254.5 299.69L256 299.59L257.5 299.49L259 299.39L260.5 299.29L262 299.2L263.5 299.11L265 299.03L266.5 298.95L268 298.88L269.5 298.82L271 298.76L272.5 298.7L274 298.65L275.5 298.59L277 298.53L278.5 298.48L280 298.42L281.5 298.37L283 298.32L284.5 298.27L286 298.23L287.5 298.19L289 298.15L290.5 298.11L292 298.08L293.5 298.05L295 298.03L296.5 298.02L298 298.01L299.5 298L301 298L302.5 298L304 298.01L305.5 298.02L307 298.04L308.5 298.05L310 298.07L311.5 298.09L313 298.11L314.5 298.13L316 298.16L317.5 298.18L319 298.21L320.5 298.23L322 298.26L323.5 298.29L325 298.31L326.5 298.34L328 298.37L329.5 298.39L331 298.42L332.5 298.44L334 298.47L335.5 298.49L337 298.52L338.5 298.54L340 298.57L341.5 298.6L343 298.62L344.5 298.65L346 298.68L347.5 298.71L349 298.74L350.5 298.77L352 298.81L353.5 298.84L355 298.88L356.5 298.91L358 298.95L359.5 298.99L361 299.03L362.5 299.07L364 299.11L365.5 299.16L367 299.21L368.5 299.26L370 299.31L371.5 299.37L373 299.42L374.5 299.48L376 299.54L377.5 299.6L379 299.66L380.5 299.73L382 299.79L383.5 299.86L385 299.92L386.5 299.99L388 300.06L389.5 300.12L391 300.19L392.5 300.26L394 300.33L395.5 300.4L397 300.46L398.5 300.53L400 300.6L401.5 300.67L403 300.74L404.5 300.82L406 300.89L407.5 300.97L409 301.05L410.5 301.13L412 301.21L413.5 301.29L415 301.37L416.5 301.44L418 301.51L419.5 301.58L421 301.64L422.5 301.72L424 301.79L425.5 301.86L427 301.94L428.5 302.01L430 302.07L431.5 302.12L433 302.16L434.5 302.19L436 302.2L437.5 302.2L439 302.2L440.5 302.2L442 302.2L443.5 302.2L445 302.2L446.5 302.2L448 302.2L449.5 302.2L451 302.2L452.5 302.2L454 302.2L455.5 302.2L457 302.2L458.5 302.2L460 302.2L461.5 302.2L463 302.2L464.5 302.2L466 302.2L467.5 302.2L469 302.2L469 302.2L471.4 312L483.4 312" stroke="#6699CC" stroke-width="1.5" fill="none" stroke-linejoin="round"/>
<path d="M61 311.4L62.5 311.37L64 311.34L65.5 311.3L67.01 311.26L68.51 311.22L70.01 311.18L71.51 311.14L73.01 311.09L74.51 311.04L76.01 310.99L77.52 310.94L79.02 310.89L80.52 310.83L82.02 310.78L83.52 310.72L85.02 310.66L86.53 310.6L88.03 310.54L89.53 310.47L91.03 310.41L92.53 310.34L94.03 310.27L95.53 310.21L97.04 310.14L98.54 310.07L100.04 310L101.54 309.93L103.04 309.85L104.54 309.78L106.04 309.7L107.55 309.62L109.05 309.53L110.55 309.45L112.05 309.36L113.55 309.27L115.05 309.17L116.55 309.08L118.06 308.98L119.56 308.88L121.06 308.78L122.56 308.67L124.06 308.57L125.56 308.46L127.06 308.34L128.57 308.23L130.07 308.11L131.57 307.99L133.07 307.87L134.57 307.75L136.07 307.62L137.57 307.49L139.08 307.36L140.58 307.22L142.08 307.09L143.58 306.95L145.08 306.8L146.58 306.64L148.09 306.48L149.59 306.31L151.09 306.13L152.59 305.95L154.09 305.76L155.59 305.56L157.09 305.36L158.6 305.15L160.1 304.94L161.6 304.72L163.1 304.5L164.6 304.27L166.1 304.04L167.6 303.8L169.11 303.55L170.61 303.29L172.11 303.02L173.61 302.73L175.11 302.43L176.61 302.12L178.11 301.81L179.62 301.48L181.12 301.15L182.62 300.81L184.12 300.46L185.62 300.1L187.12 299.72L188.62 299.34L190.13 298.94L191.63 298.53L193.13 298.11L194.63 297.66L196.13 297.19L197.63 296.7L199.14 296.2L200.64 295.69L202.14 295.18L203.64 294.66L205.14 294.15L206.64 293.65L208.14 293.16L209.65 292.67L211.15 292.17L212.65 291.66L214.15 291.12L215.65 290.54L217.15 289.9L218.65 289.2L220.16 288.49L221.66 287.79L223.16 287.12L224.66 286.52L226.16 286L227.66 285.52L229.16 285.08L230.67 284.66L232.17 284.26L233.67 283.86L235.17 283.46L236.67 283.04L238.17 282.59L239.68 282.11L241.18 281.59L242.68 281.04L244.18 280.46L245.68 279.85L247.18 279.22L248.68 278.58L250.19 277.92L251.69 277.22L253.19 276.49L254.69 275.73L256.19 274.95L257.69 274.18L259.19 273.41L260.7 272.65L262.2 271.85L263.7 271.04L265.2 270.24L266.7 269.46L268.2 268.75L269.7 268.11L271.21 267.57L272.71 267.08L274.21 266.63L275.71 266.21L277.21 265.79L278.71 265.38L280.21 264.94L281.72 264.49L283.22 264.03L284.72 263.58L286.22 263.13L287.72 262.68L289.22 262.23L290.73 261.78L292.23 261.32L293.73 260.86L295.23 260.4L296.73 259.95L298.23 259.5L299.73 259.07L301.24 258.66L302.74 258.27L304.24 257.88L305.74 257.5L307.24 257.12L308.74 256.73L310.24 256.33L311.75 255.9L313.25 255.45L314.75 254.99L316.25 254.55L317.75 254.13L319.25 253.76L320.75 253.45L322.26 253.17L323.76 252.91L325.26 252.68L326.76 252.45L328.26 252.24L329.76 252.03L331.26 251.82L332.77 251.6L334.27 251.39L335.77 251.18L337.27 251.01L338.77 250.87L340.27 250.79L341.77 250.72L343.28 250.67L344.78 250.63L346.28 250.6L347.78 250.6L349.28 250.63L350.78 250.68L352.29 250.75L353.79 250.83L355.29 250.92L356.79 251.05L358.29 251.24L359.79 251.48L361.29 251.76L362.8 252.08L364.3 252.52L365.8 253.07L367.3 253.69L368.8 254.39L370.3 255.24L371.8 256.2L373.31 257.23L374.81 258.27L376.31 259.31L377.81 260.41L379.31 261.51L380.81 262.57L382.31 263.6L383.82 264.61L385.32 265.61L386.82 266.58L388.32 267.53L389.82 268.49L391.32 269.48L392.82 270.49L394.33 271.43L395.83 272.23L397.33 272.94L398.83 273.6L400.33 274.23L401.83 274.83L403.34 275.44L404.84 276.05L406.34 276.62L407.84 277.15L409.34 277.6L410.84 277.99L412.34 278.35L413.85 278.68L415.35 278.98L416.85 279.26L418.35 279.53L419.85 279.78L421.35 280.01L422.85 280.19L424.36 280.32L425.86 280.44L427.36 280.54L428.86 280.63L430.36 280.72L431.86 280.82L433.36 280.92L434.87 280.98L436.37 281L437.87 281L439.37 281L440.87 281L442.37 281L443.88 281L445.38 281L446.88 281L448.38 281L449.88 281L451.38 281L452.88 281L454.39 281L455.89 281L457.39 281L458.89 281L460.39 281L461.89 281L463.39 281L464.9 281L466.4 281L467.9 281L469.4 281L469.4 281L471.6 312L483.4 312" stroke="#332288" stroke-width="1.5" fill="none" stroke-linejoin="round"/>
<path d="M347 179.5V318.4" stroke="#555" stroke-width="1" stroke-dasharray="3.75 1.65" fill="none"/>
<circle cx="167.6" cy="312" r="3" fill="#CC6677"/>
<circle cx="205.6" cy="312" r="3" fill="#CC6677"/>
<circle cx="262.8" cy="312" r="3" fill="#CC6677"/>
<path d="M322.6 287V297.8" stroke="#CC6677" stroke-width="1.5" fill="none"/><path d="M320.6 287h4M320.6 297.8h4" stroke="#CC6677" stroke-width="1" fill="none"/>
<circle cx="322.6" cy="292.4" r="3" fill="#CC6677"/>
<path d="M377 232.6V259.4" stroke="#CC6677" stroke-width="1.5" fill="none"/><path d="M375 232.6h4M375 259.4h4" stroke="#CC6677" stroke-width="1" fill="none"/>
<circle cx="377" cy="246" r="3" fill="#CC6677"/>
<path d="M436.6 222.4V250" stroke="#CC6677" stroke-width="1.5" fill="none"/><path d="M434.6 222.4h4M434.6 250h4" stroke="#CC6677" stroke-width="1" fill="none"/>
<circle cx="436.6" cy="236.4" r="3" fill="#CC6677"/>
<circle cx="322.6" cy="298.2" r="3" fill="#661100"/>
<circle cx="377" cy="306" r="3" fill="#661100"/>
<circle cx="436.6" cy="312" r="3" fill="#661100"/>
<path d="M322.6 246.6V274" stroke="#44AA99" stroke-width="1.5" fill="none"/><path d="M320.6 246.6h4M320.6 274h4" stroke="#44AA99" stroke-width="1" fill="none"/>
<circle cx="322.6" cy="260.4" r="3" fill="#44AA99"/>
<path d="M377 254.4V276.4" stroke="#44AA99" stroke-width="1.5" fill="none"/><path d="M375 254.4h4M375 276.4h4" stroke="#44AA99" stroke-width="1" fill="none"/>
<circle cx="377" cy="265.4" r="3" fill="#44AA99"/>
<path d="M436.6 277.4V288.4" stroke="#44AA99" stroke-width="1.5" fill="none"/><path d="M434.6 277.4h4M434.6 288.4h4" stroke="#44AA99" stroke-width="1" fill="none"/>
<circle cx="436.6" cy="283" r="3" fill="#44AA99"/>
<circle cx="167.6" cy="304.6" r="3" fill="#332288"/>
<path d="M205.6 291V299.4" stroke="#332288" stroke-width="1.5" fill="none"/><path d="M203.6 291h4M203.6 299.4h4" stroke="#332288" stroke-width="1" fill="none"/>
<circle cx="205.6" cy="295" r="3" fill="#332288"/>
<path d="M262.8 270V290" stroke="#332288" stroke-width="1.5" fill="none"/><path d="M260.8 270h4M260.8 290h4" stroke="#332288" stroke-width="1" fill="none"/>
<circle cx="262.8" cy="280" r="3" fill="#332288"/>
</g>
<rect x="45.5" y="179.5" width="445.5" height="138.9" fill="none" stroke="#000" stroke-width="0.8"/>
<path d="M59.5 318.4v3.5M143.5 318.4v3.5M225 318.4v3.5M309 318.4v3.5M390.5 318.4v3.5M474.5 318.4v3.5M45.5 312.3h-3.5M45.5 274h-3.5M45.5 235.8h-3.5M45.5 197.5h-3.5" stroke="#000" stroke-width="0.8" fill="none"/>
<text transform="translate(59 333.2) scale(0.896 1)" text-anchor="middle">2017-03</text>
<text transform="translate(143 333.2) scale(0.896 1)" text-anchor="middle">2017-04</text>
<text transform="translate(224.5 333.2) scale(0.896 1)" text-anchor="middle">2017-05</text>
<text transform="translate(308.5 333.2) scale(0.896 1)" text-anchor="middle">2017-06</text>
<text transform="translate(390 333.2) scale(0.896 1)" text-anchor="middle">2017-07</text>
<text transform="translate(474 333.2) scale(0.896 1)" text-anchor="middle">2017-08</text>
<text transform="translate(38.5 316.4) scale(0.896 1)" text-anchor="end">0</text>
<text transform="translate(38.5 278.1) scale(0.896 1)" text-anchor="end">5</text>
<text transform="translate(38.5 239.9) scale(0.896 1)" text-anchor="end">10</text>
<text transform="translate(38.5 201.6) scale(0.896 1)" text-anchor="end">15</text>
<!-- panel 3 -->
<path d="M59.5 353.5V492.1M143.5 353.5V492.1M225 353.5V492.1M309 353.5V492.1M390.5 353.5V492.1M474.5 353.5V492.1M45.5 486H491M45.5 447.5H491M45.5 409.5H491M45.5 371.5H491" stroke="#b0b0b0" stroke-width="0.8" fill="none"/>
<g clip-path="url(#c2)">
<path d="M61 480.9L62.5 480.83L64.01 480.76L65.51 480.69L67.02 480.61L68.52 480.54L70.02 480.46L71.53 480.38L73.03 480.3L74.54 480.21L76.04 480.13L77.54 480.04L79.05 479.95L80.55 479.86L82.06 479.77L83.56 479.68L85.06 479.59L86.57 479.49L88.07 479.4L89.58 479.3L91.08 479.2L92.58 479.1L94.09 479L95.59 478.9L97.1 478.8L98.6 478.7L100.1 478.59L101.61 478.49L103.11 478.38L104.62 478.27L106.12 478.16L107.62 478.04L109.13 477.92L110.63 477.8L112.14 477.68L113.64 477.55L115.14 477.43L116.65 477.3L118.15 477.17L119.66 477.03L121.16 476.89L122.66 476.76L124.17 476.62L125.67 476.47L127.18 476.33L128.68 476.18L130.18 476.03L131.69 475.88L133.19 475.72L134.7 475.56L136.2 475.4L137.7 475.23L139.21 475.06L140.71 474.88L142.22 474.7L143.72 474.5L145.22 474.28L146.73 474.04L148.23 473.81L149.74 473.63L151.24 473.49L152.74 473.36L154.25 473.24L155.75 473.13L157.26 473.02L158.76 472.93L160.26 472.84L161.77 472.75L163.27 472.66L164.78 472.58L166.28 472.5L167.78 472.42L169.29 472.34L170.79 472.26L172.3 472.17L173.8 472.08L175.3 471.98L176.81 471.87L178.31 471.76L179.82 471.64L181.32 471.52L182.82 471.41L184.33 471.3L185.83 471.2L187.34 471.11L188.84 471.04L190.34 470.99L191.85 470.95L193.35 470.9L194.86 470.87L196.36 470.84L197.86 470.81L199.37 470.8L200.87 470.8L202.38 470.81L203.88 470.82L205.38 470.83L206.89 470.85L208.39 470.87L209.9 470.89L211.4 470.92L212.9 470.95L214.41 470.98L215.91 471.01L217.42 471.04L218.92 471.07L220.42 471.11L221.93 471.14L223.43 471.17L224.94 471.2L226.44 471.23L227.94 471.26L229.45 471.29L230.95 471.33L232.46 471.36L233.96 471.4L235.46 471.44L236.97 471.48L238.47 471.52L239.98 471.55L241.48 471.59L242.98 471.63L244.49 471.67L245.99 471.71L247.5 471.74L249 471.78L250.5 471.81L252.01 471.84L253.51 471.88L255.02 471.91L256.52 471.94L258.02 471.97L259.53 472L261.03 472.03L262.54 472.07L264.04 472.1L265.54 472.13L267.05 472.16L268.55 472.19L270.06 472.22L271.56 472.25L273.06 472.27L274.57 472.3L276.07 472.33L277.58 472.36L279.08 472.39L280.58 472.42L282.09 472.45L283.59 472.48L285.1 472.51L286.6 472.54L288.1 472.57L289.61 472.6L291.11 472.62L292.62 472.65L294.12 472.68L295.62 472.71L297.13 472.74L298.63 472.77L300.14 472.8L301.64 472.83L303.14 472.86L304.65 472.89L306.15 472.92L307.66 472.94L309.16 472.97L310.66 473L312.17 473.02L313.67 473.05L315.18 473.08L316.68 473.1L318.18 473.13L319.69 473.16L321.19 473.19L322.7 473.22L324.2 473.26L325.7 473.29L327.21 473.33L328.71 473.37L330.22 473.41L331.72 473.45L333.22 473.5L334.73 473.55L336.23 473.61L337.74 473.67L339.24 473.74L340.74 473.8L342.25 473.87L343.75 473.93L345.26 474L346.76 474.06L348.26 474.13L349.77 474.19L351.27 474.25L352.78 474.31L354.28 474.37L355.78 474.43L357.29 474.49L358.79 474.55L360.3 474.61L361.8 474.67L363.3 474.72L364.81 474.77L366.31 474.82L367.82 474.86L369.32 474.91L370.82 474.96L372.33 475.02L373.83 475.07L375.34 475.14L376.84 475.21L378.34 475.3L379.85 475.39L381.35 475.51L382.86 475.69L384.36 475.9L385.86 476.16L387.37 476.52L388.87 476.91L390.38 477.29L391.88 477.66L393.38 478.02L394.89 478.39L396.39 478.76L397.9 479.12L399.4 479.46L400.9 479.8L402.41 480.13L403.91 480.46L405.42 480.78L406.92 481.09L408.42 481.39L409.93 481.69L411.43 481.98L412.94 482.28L414.44 482.57L415.94 482.85L417.45 483.11L418.95 483.35L420.46 483.56L421.96 483.76L423.46 483.95L424.97 484.12L426.47 484.28L427.98 484.43L429.48 484.56L430.98 484.67L432.49 484.77L433.99 484.87L435.5 484.95L437 485.03L438.5 485.12L440.01 485.2L441.51 485.3L443.02 485.42L444.52 485.52L446.02 485.59L447.53 485.6L449.03 485.6L450.54 485.6L452.04 485.6L453.54 485.6L455.05 485.6L456.55 485.6L458.06 485.6L459.56 485.6L461.06 485.6L462.57 485.6L464.07 485.6L465.58 485.6L467.08 485.6L468.58 485.6L470.09 485.6L471.59 485.6L473.1 485.6L474.6 485.6L474.6 485.6L477.4 486L488.6 486" stroke="#661100" stroke-width="1.5" fill="none" stroke-linejoin="round"/>
<path d="M61 484L62.5 483.98L64.01 483.95L65.51 483.92L67.02 483.89L68.52 483.86L70.02 483.82L71.53 483.78L73.03 483.73L74.54 483.68L76.04 483.64L77.54 483.58L79.05 483.53L80.55 483.47L82.06 483.41L83.56 483.35L85.06 483.29L86.57 483.23L88.07 483.16L89.58 483.09L91.08 483.03L92.58 482.96L94.09 482.89L95.59 482.81L97.1 482.74L98.6 482.67L100.1 482.59L101.61 482.52L103.11 482.44L104.62 482.35L106.12 482.26L107.62 482.16L109.13 482.06L110.63 481.96L112.14 481.85L113.64 481.73L115.14 481.61L116.65 481.49L118.15 481.36L119.66 481.23L121.16 481.09L122.66 480.95L124.17 480.81L125.67 480.65L127.18 480.48L128.68 480.31L130.18 480.12L131.69 479.91L133.19 479.69L134.7 479.45L136.2 479.16L137.7 478.79L139.21 478.38L140.71 477.95L142.22 477.57L143.72 477.26L145.22 476.99L146.73 476.74L148.23 476.49L149.74 476.25L151.24 475.99L152.74 475.73L154.25 475.48L155.75 475.22L157.26 474.97L158.76 474.71L160.26 474.45L161.77 474.19L163.27 473.92L164.78 473.64L166.28 473.36L167.78 473.08L169.29 472.79L170.79 472.49L172.3 472.19L173.8 471.87L175.3 471.53L176.81 471.19L178.31 470.83L179.82 470.47L181.32 470.1L182.82 469.71L184.33 469.31L185.83 468.89L187.34 468.44L188.84 467.98L190.34 467.48L191.85 466.94L193.35 466.34L194.86 465.71L196.36 465.04L197.86 464.36L199.37 463.68L200.87 463L202.38 462.28L203.88 461.53L205.38 460.79L206.89 460.08L208.39 459.44L209.9 458.87L211.4 458.34L212.9 457.81L214.41 457.24L215.91 456.6L217.42 455.89L218.92 455.13L220.42 454.35L221.93 453.56L223.43 452.78L224.94 452.03L226.44 451.32L227.94 450.62L229.45 449.94L230.95 449.26L232.46 448.57L233.96 447.88L235.46 447.18L236.97 446.45L238.47 445.71L239.98 444.96L241.48 444.23L242.98 443.51L244.49 442.82L245.99 442.19L247.5 441.6L249 441.01L250.5 440.39L252.01 439.74L253.51 439.07L255.02 438.38L256.52 437.69L258.02 436.99L259.53 436.25L261.03 435.47L262.54 434.71L264.04 434L265.54 433.39L267.05 432.82L268.55 432.28L270.06 431.77L271.56 431.3L273.06 430.88L274.57 430.5L276.07 430.18L277.58 429.92L279.08 429.7L280.58 429.47L282.09 429.2L283.59 428.85L285.1 428.39L286.6 427.85L288.1 427.28L289.61 426.73L291.11 426.23L292.62 425.75L294.12 425.27L295.62 424.8L297.13 424.33L298.63 423.85L300.14 423.36L301.64 422.85L303.14 422.33L304.65 421.81L306.15 421.29L307.66 420.77L309.16 420.27L310.66 419.79L312.17 419.3L313.67 418.82L315.18 418.36L316.68 417.94L318.18 417.56L319.69 417.21L321.19 416.9L322.7 416.61L324.2 416.34L325.7 416.08L327.21 415.84L328.71 415.61L330.22 415.39L331.72 415.18L333.22 415L334.73 414.83L336.23 414.68L337.74 414.54L339.24 414.42L340.74 414.3L342.25 414.19L343.75 414.08L345.26 413.98L346.76 413.86L348.26 413.76L349.77 413.7L351.27 413.71L352.78 413.75L354.28 413.82L355.78 413.91L357.29 414.01L358.79 414.11L360.3 414.22L361.8 414.34L363.3 414.48L364.81 414.64L366.31 414.82L367.82 415.03L369.32 415.28L370.82 415.58L372.33 416.02L373.83 416.55L375.34 417.13L376.84 417.8L378.34 418.54L379.85 419.32L381.35 420.12L382.86 420.95L384.36 421.82L385.86 422.73L387.37 423.7L388.87 424.68L390.38 425.63L391.88 426.58L393.38 427.51L394.89 428.34L396.39 429.08L397.9 429.74L399.4 430.36L400.9 430.95L402.41 431.53L403.91 432.08L405.42 432.62L406.92 433.12L408.42 433.57L409.93 433.98L411.43 434.35L412.94 434.69L414.44 435.01L415.94 435.3L417.45 435.57L418.95 435.83L420.46 436.07L421.96 436.3L423.46 436.51L424.97 436.71L426.47 436.9L427.98 437.08L429.48 437.24L430.98 437.4L432.49 437.56L433.99 437.7L435.5 437.84L437 437.97L438.5 438.09L440.01 438.2L441.51 438.31L443.02 438.43L444.52 438.52L446.02 438.59L447.53 438.6L449.03 438.6L450.54 438.6L452.04 438.6L453.54 438.6L455.05 438.6L456.55 438.6L458.06 438.6L459.56 438.6L461.06 438.6L462.57 438.6L464.07 438.6L465.58 438.6L467.08 438.6L468.58 438.6L470.09 438.6L471.59 438.6L473.1 438.6L474.6 438.6L474.6 438.6L477.4 486L488.6 486" stroke="#44AA99" stroke-width="1.5" fill="none" stroke-linejoin="round"/>
<path d="M61 486L62.5 486L64.01 486L65.51 486L67.02 486L68.52 486L70.02 486L71.53 486L73.03 486L74.54 486L76.04 486L77.54 486L79.05 486L80.55 486L82.06 486L83.56 486L85.06 486L86.57 486L88.07 486L89.58 486L91.08 486L92.58 486L94.09 486L95.59 486L97.1 486L98.6 486L100.1 486L101.61 486L103.11 486L104.62 486L106.12 486L107.62 486L109.13 486L110.63 486L112.14 486L113.64 486L115.14 486L116.65 486L118.15 486L119.66 486L121.16 486L122.66 486L124.17 486L125.67 486L127.18 486L128.68 486L130.18 486L131.69 486L133.19 486L134.7 486L136.2 486L137.7 486L139.21 486L140.71 486L142.22 486L143.72 486L145.22 486L146.73 486L148.23 486L149.74 486L151.24 486L152.74 486L154.25 486L155.75 486L157.26 486L158.76 486L160.26 486L161.77 486L163.27 486L164.78 486L166.28 486L167.78 486L169.29 486L170.79 486L172.3 486L173.8 486L175.3 486L176.81 486L178.31 486L179.82 486L181.32 486L182.82 486L184.33 486L185.83 486L187.34 486L188.84 486L190.34 486L191.85 486L193.35 486L194.86 486L196.36 486L197.86 486L199.37 486L200.87 486L202.38 486L203.88 486L205.38 486L206.89 486L208.39 486L209.9 486L211.4 486L212.9 486L214.41 486L215.91 486L217.42 486L218.92 486L220.42 486L221.93 486L223.43 486L224.94 486L226.44 485.99L227.94 485.95L229.45 485.89L230.95 485.81L232.46 485.72L233.96 485.62L235.46 485.51L236.97 485.4L238.47 485.3L239.98 485.2L241.48 485.11L242.98 485.01L244.49 484.91L245.99 484.81L247.5 484.7L249 484.58L250.5 484.46L252.01 484.33L253.51 484.2L255.02 484.07L256.52 483.93L258.02 483.78L259.53 483.63L261.03 483.46L262.54 483.3L264.04 483.12L265.54 482.93L267.05 482.71L268.55 482.47L270.06 482.21L271.56 481.95L273.06 481.69L274.57 481.46L276.07 481.26L277.58 481.09L279.08 480.92L280.58 480.75L282.09 480.54L283.59 480.29L285.1 479.95L286.6 479.55L288.1 479.12L289.61 478.7L291.11 478.31L292.62 477.93L294.12 477.55L295.62 477.17L297.13 476.77L298.63 476.37L300.14 475.96L301.64 475.53L303.14 475.09L304.65 474.63L306.15 474.17L307.66 473.71L309.16 473.25L310.66 472.8L312.17 472.36L313.67 471.91L315.18 471.47L316.68 471.02L318.18 470.57L319.69 470.1L321.19 469.62L322.7 469.13L324.2 468.63L325.7 468.12L327.21 467.6L328.71 467.07L330.22 466.52L331.72 465.96L333.22 465.39L334.73 464.8L336.23 464.18L337.74 463.52L339.24 462.78L340.74 461.95L342.25 461.09L343.75 460.24L345.26 459.48L346.76 458.81L348.26 458.18L349.77 457.51L351.27 456.76L352.78 455.98L354.28 455.15L355.78 454.3L357.29 453.42L358.79 452.52L360.3 451.62L361.8 450.7L363.3 449.74L364.81 448.73L366.31 447.65L367.82 446.49L369.32 445.31L370.82 444.15L372.33 443.08L373.83 442.12L375.34 441.22L376.84 440.3L378.34 439.29L379.85 438.1L381.35 436.68L382.86 435.13L384.36 433.54L385.86 432.03L387.37 430.62L388.87 429.24L390.38 427.85L391.88 426.45L393.38 425.05L394.89 423.7L396.39 422.36L397.9 421.04L399.4 419.83L400.9 418.79L402.41 417.82L403.91 416.9L405.42 416.05L406.92 415.25L408.42 414.51L409.93 413.83L411.43 413.19L412.94 412.57L414.44 411.99L415.94 411.45L417.45 410.97L418.95 410.55L420.46 410.2L421.96 409.89L423.46 409.61L424.97 409.35L426.47 409.12L427.98 408.92L429.48 408.75L430.98 408.6L432.49 408.45L433.99 408.31L435.5 408.19L437 408.09L438.5 408.02L440.01 408L441.51 408L443.02 408L444.52 408L446.02 408L447.53 408L449.03 408L450.54 408L452.04 408L453.54 408L455.05 408L456.55 408L458.06 408L459.56 408L461.06 408L462.57 408L464.07 408L465.58 408L467.08 408L468.58 408L470.09 408L471.59 408L473.1 408L474.6 408L474.6 408L477.6 486L488.6 486" stroke="#CC6677" stroke-width="1.5" fill="none" stroke-linejoin="round"/>
<path d="M61 481.9L62.5 481.84L64.01 481.78L65.51 481.72L67.01 481.66L68.51 481.59L70.02 481.53L71.52 481.46L73.02 481.38L74.52 481.31L76.03 481.23L77.53 481.15L79.03 481.07L80.53 480.99L82.04 480.91L83.54 480.82L85.04 480.73L86.54 480.65L88.05 480.56L89.55 480.46L91.05 480.37L92.55 480.28L94.06 480.18L95.56 480.09L97.06 479.99L98.56 479.89L100.07 479.8L101.57 479.7L103.07 479.59L104.57 479.49L106.08 479.38L107.58 479.26L109.08 479.15L110.58 479.03L112.09 478.91L113.59 478.78L115.09 478.65L116.59 478.52L118.1 478.38L119.6 478.24L121.1 478.09L122.6 477.94L124.11 477.78L125.61 477.61L127.11 477.44L128.61 477.26L130.12 477.08L131.62 476.89L133.12 476.7L134.62 476.51L136.13 476.31L137.63 476.12L139.13 475.92L140.63 475.72L142.14 475.52L143.64 475.31L145.14 475.09L146.65 474.87L148.15 474.64L149.65 474.44L151.15 474.27L152.66 474.1L154.16 473.94L155.66 473.79L157.16 473.65L158.67 473.51L160.17 473.38L161.67 473.25L163.17 473.12L164.68 472.99L166.18 472.86L167.68 472.73L169.18 472.59L170.69 472.45L172.19 472.3L173.69 472.14L175.19 471.98L176.7 471.8L178.2 471.6L179.7 471.4L181.2 471.18L182.71 470.96L184.21 470.73L185.71 470.5L187.21 470.26L188.72 470.03L190.22 469.81L191.72 469.59L193.22 469.38L194.73 469.18L196.23 468.99L197.73 468.82L199.23 468.67L200.74 468.54L202.24 468.41L203.74 468.3L205.24 468.19L206.75 468.08L208.25 467.98L209.75 467.89L211.25 467.8L212.76 467.71L214.26 467.62L215.76 467.53L217.26 467.45L218.77 467.36L220.27 467.28L221.77 467.19L223.27 467.1L224.78 467.01L226.28 466.92L227.78 466.83L229.29 466.74L230.79 466.65L232.29 466.56L233.79 466.47L235.3 466.38L236.8 466.29L238.3 466.2L239.8 466.12L241.31 466.03L242.81 465.94L244.31 465.85L245.81 465.76L247.32 465.67L248.82 465.57L250.32 465.48L251.82 465.38L253.33 465.27L254.83 465.16L256.33 465.05L257.83 464.93L259.34 464.82L260.84 464.71L262.34 464.6L263.84 464.5L265.35 464.41L266.85 464.33L268.35 464.26L269.85 464.2L271.36 464.16L272.86 464.11L274.36 464.07L275.86 464.03L277.37 463.99L278.87 463.95L280.37 463.92L281.87 463.88L283.38 463.86L284.88 463.84L286.38 463.82L287.88 463.81L289.39 463.8L290.89 463.8L292.39 463.8L293.89 463.81L295.4 463.82L296.9 463.83L298.4 463.84L299.9 463.86L301.41 463.88L302.91 463.89L304.41 463.91L305.91 463.94L307.42 463.96L308.92 463.98L310.42 464.01L311.93 464.04L313.43 464.08L314.93 464.13L316.43 464.19L317.94 464.26L319.44 464.33L320.94 464.41L322.44 464.49L323.95 464.57L325.45 464.65L326.95 464.73L328.45 464.82L329.96 464.9L331.46 464.98L332.96 465.07L334.46 465.17L335.97 465.27L337.47 465.38L338.97 465.49L340.47 465.6L341.98 465.7L343.48 465.81L344.98 465.91L346.48 466.01L347.99 466.09L349.49 466.17L350.99 466.25L352.49 466.31L354 466.37L355.5 466.43L357 466.48L358.5 466.54L360.01 466.6L361.51 466.66L363.01 466.73L364.51 466.79L366.02 466.86L367.52 466.92L369.02 466.99L370.52 467.06L372.03 467.12L373.53 467.19L375.03 467.26L376.53 467.33L378.04 467.4L379.54 467.47L381.04 467.54L382.54 467.62L384.05 467.69L385.55 467.77L387.05 467.84L388.55 467.92L390.06 468L391.56 468.09L393.06 468.17L394.57 468.26L396.07 468.35L397.57 468.45L399.07 468.54L400.58 468.64L402.08 468.74L403.58 468.84L405.08 468.94L406.59 469.05L408.09 469.16L409.59 469.27L411.09 469.38L412.6 469.49L414.1 469.6L415.6 469.7L417.1 469.81L418.61 469.91L420.11 470.01L421.61 470.1L423.11 470.19L424.62 470.28L426.12 470.37L427.62 470.46L429.12 470.55L430.63 470.64L432.13 470.74L433.63 470.85L435.13 470.97L436.64 471.1L438.14 471.22L439.64 471.34L441.14 471.46L442.65 471.57L444.15 471.67L445.65 471.75L447.15 471.82L448.66 471.87L450.16 471.9L451.66 471.9L453.16 471.9L454.67 471.9L456.17 471.9L457.67 471.9L459.17 471.9L460.68 471.9L462.18 471.9L463.68 471.9L465.18 471.9L466.69 471.9L468.19 471.9L469.69 471.9L471.19 471.9L472.7 471.9L474.2 471.9L474.2 471.9L477 486L488.6 486" stroke="#6699CC" stroke-width="1.5" fill="none" stroke-linejoin="round"/>
<path d="M61 479.9L62.5 479.8L64.01 479.7L65.51 479.59L67.02 479.48L68.52 479.37L70.02 479.25L71.53 479.13L73.03 479.01L74.54 478.88L76.04 478.75L77.54 478.62L79.05 478.49L80.55 478.35L82.06 478.21L83.56 478.06L85.06 477.91L86.57 477.76L88.07 477.6L89.58 477.44L91.08 477.27L92.58 477.1L94.09 476.93L95.59 476.75L97.1 476.57L98.6 476.38L100.1 476.19L101.61 475.99L103.11 475.79L104.62 475.57L106.12 475.35L107.62 475.11L109.13 474.86L110.63 474.58L112.14 474.27L113.64 473.92L115.14 473.56L116.65 473.18L118.15 472.82L119.66 472.47L121.16 472.16L122.66 471.86L124.17 471.57L125.67 471.29L127.18 471.02L128.68 470.74L130.18 470.45L131.69 470.14L133.19 469.82L134.7 469.47L136.2 469.08L137.7 468.64L139.21 468.16L140.71 467.68L142.22 467.22L143.72 466.8L145.22 466.41L146.73 466.03L148.23 465.66L149.74 465.27L151.24 464.86L152.74 464.45L154.25 464.02L155.75 463.59L157.26 463.15L158.76 462.72L160.26 462.29L161.77 461.87L163.27 461.46L164.78 461.06L166.28 460.68L167.78 460.33L169.29 459.98L170.79 459.64L172.3 459.29L173.8 458.92L175.3 458.52L176.81 458.08L178.31 457.62L179.82 457.14L181.32 456.64L182.82 456.12L184.33 455.6L185.83 455.07L187.34 454.53L188.84 454L190.34 453.48L191.85 452.97L193.35 452.46L194.86 451.94L196.36 451.41L197.86 450.85L199.37 450.26L200.87 449.62L202.38 448.92L203.88 448.17L205.38 447.39L206.89 446.59L208.39 445.79L209.9 444.93L211.4 444.04L212.9 443.15L214.41 442.31L215.91 441.54L217.42 440.81L218.92 440.11L220.42 439.43L221.93 438.76L223.43 438.1L224.94 437.43L226.44 436.75L227.94 436.08L229.45 435.41L230.95 434.74L232.46 434.09L233.96 433.44L235.46 432.81L236.97 432.17L238.47 431.53L239.98 430.91L241.48 430.3L242.98 429.72L244.49 429.18L245.99 428.69L247.5 428.26L249 427.83L250.5 427.32L252.01 426.74L253.51 426.11L255.02 425.44L256.52 424.73L258.02 423.99L259.53 423.15L261.03 422.21L262.54 421.27L264.04 420.44L265.54 419.79L267.05 419.23L268.55 418.72L270.06 418.26L271.56 417.83L273.06 417.45L274.57 417.1L276.07 416.79L277.58 416.53L279.08 416.31L280.58 416.08L282.09 415.8L283.59 415.44L285.1 414.94L286.6 414.34L288.1 413.72L289.61 413.14L291.11 412.64L292.62 412.17L294.12 411.72L295.62 411.28L297.13 410.84L298.63 410.4L300.14 409.96L301.64 409.51L303.14 409.06L304.65 408.61L306.15 408.15L307.66 407.7L309.16 407.25L310.66 406.8L312.17 406.31L313.67 405.82L315.18 405.35L316.68 404.92L318.18 404.56L319.69 404.25L321.19 403.98L322.7 403.73L324.2 403.51L325.7 403.31L327.21 403.12L328.71 402.95L330.22 402.79L331.72 402.64L333.22 402.52L334.73 402.42L336.23 402.33L337.74 402.26L339.24 402.19L340.74 402.13L342.25 402.08L343.75 402.03L345.26 401.99L346.76 401.95L348.26 401.92L349.77 401.9L351.27 401.92L352.78 402.01L354.28 402.13L355.78 402.29L357.29 402.47L358.79 402.66L360.3 402.83L361.8 403.01L363.3 403.21L364.81 403.43L366.31 403.67L367.82 403.94L369.32 404.25L370.82 404.62L372.33 405.11L373.83 405.71L375.34 406.35L376.84 407.05L378.34 407.85L379.85 408.71L381.35 409.65L382.86 410.68L384.36 411.8L385.86 413.01L387.37 414.34L388.87 415.74L390.38 417.15L391.88 418.63L393.38 420.12L394.89 421.5L396.39 422.75L397.9 423.91L399.4 424.99L400.9 425.99L402.41 426.93L403.91 427.82L405.42 428.66L406.92 429.46L408.42 430.23L409.93 430.98L411.43 431.68L412.94 432.31L414.44 432.85L415.94 433.32L417.45 433.74L418.95 434.13L420.46 434.48L421.96 434.8L423.46 435.1L424.97 435.37L426.47 435.63L427.98 435.88L429.48 436.12L430.98 436.35L432.49 436.58L433.99 436.8L435.5 437.01L437 437.21L438.5 437.41L440.01 437.6L441.51 437.81L443.02 438.04L444.52 438.24L446.02 438.37L447.53 438.4L449.03 438.4L450.54 438.4L452.04 438.4L453.54 438.4L455.05 438.4L456.55 438.4L458.06 438.4L459.56 438.4L461.06 438.4L462.57 438.4L464.07 438.4L465.58 438.4L467.08 438.4L468.58 438.4L470.09 438.4L471.59 438.4L473.1 438.4L474.6 438.4L474.6 438.4L477.4 486L488.6 486" stroke="#332288" stroke-width="1.5" fill="none" stroke-linejoin="round"/>
<path d="M338.6 353.5V492.1" stroke="#555" stroke-width="1" stroke-dasharray="3.75 1.65" fill="none"/>
<circle cx="154.4" cy="486" r="3" fill="#CC6677"/>
<circle cx="208.2" cy="486" r="3" fill="#CC6677"/>
<circle cx="262.8" cy="486" r="3" fill="#CC6677"/>
<circle cx="295.4" cy="486" r="3" fill="#CC6677"/>
<path d="M379.6 440.6V449.8" stroke="#CC6677" stroke-width="1.5" fill="none"/><path d="M377.6 440.6h4M377.6 449.8h4" stroke="#CC6677" stroke-width="1" fill="none"/>
<circle cx="379.6" cy="445.4" r="3" fill="#CC6677"/>
<path d="M447.7 386.6V413.4" stroke="#CC6677" stroke-width="1.5" fill="none"/><path d="M445.7 386.6h4M445.7 413.4h4" stroke="#CC6677" stroke-width="1" fill="none"/>
<circle cx="447.7" cy="400.2" r="3" fill="#CC6677"/>
<circle cx="339" cy="471" r="3" fill="#661100"/>
<circle cx="379.6" cy="476.4" r="3" fill="#661100"/>
<circle cx="447.7" cy="485.6" r="3" fill="#661100"/>
<path d="M339 398.6V415.6" stroke="#44AA99" stroke-width="1.5" fill="none"/><path d="M337 398.6h4M337 415.6h4" stroke="#44AA99" stroke-width="1" fill="none"/>
<circle cx="339" cy="407.2" r="3" fill="#44AA99"/>
<path d="M379.6 412.4V426.6" stroke="#44AA99" stroke-width="1.5" fill="none"/><path d="M377.6 412.4h4M377.6 426.6h4" stroke="#44AA99" stroke-width="1" fill="none"/>
<circle cx="379.6" cy="420" r="3" fill="#44AA99"/>
<path d="M447.7 431.4V446.6" stroke="#44AA99" stroke-width="1.5" fill="none"/><path d="M445.7 431.4h4M445.7 446.6h4" stroke="#44AA99" stroke-width="1" fill="none"/>
<circle cx="447.7" cy="439" r="3" fill="#44AA99"/>
<circle cx="154.4" cy="472.4" r="3" fill="#332288"/>
<path d="M208.2 442V450.4" stroke="#332288" stroke-width="1.5" fill="none"/><path d="M206.2 442h4M206.2 450.4h4" stroke="#332288" stroke-width="1" fill="none"/>
<circle cx="208.2" cy="446.2" r="3" fill="#332288"/>
<path d="M262.8 419V430" stroke="#332288" stroke-width="1.5" fill="none"/><path d="M260.8 419h4M260.8 430h4" stroke="#332288" stroke-width="1" fill="none"/>
<circle cx="262.8" cy="424.6" r="3" fill="#332288"/>
<path d="M295.4 393.6V411" stroke="#332288" stroke-width="1.5" fill="none"/><path d="M293.4 393.6h4M293.4 411h4" stroke="#332288" stroke-width="1" fill="none"/>
<circle cx="295.4" cy="402.2" r="3" fill="#332288"/>
</g>
<rect x="45.5" y="353.5" width="445.5" height="138.6" fill="none" stroke="#000" stroke-width="0.8"/>
<path d="M59.5 492.1v3.5M143.5 492.1v3.5M225 492.1v3.5M309 492.1v3.5M390.5 492.1v3.5M474.5 492.1v3.5M45.5 486h-3.5M45.5 447.5h-3.5M45.5 409.5h-3.5M45.5 371.5h-3.5" stroke="#000" stroke-width="0.8" fill="none"/>
<text transform="translate(59 506.9) scale(0.896 1)" text-anchor="middle">2019-03</text>
<text transform="translate(143 506.9) scale(0.896 1)" text-anchor="middle">2019-04</text>
<text transform="translate(224.5 506.9) scale(0.896 1)" text-anchor="middle">2019-05</text>
<text transform="translate(308.5 506.9) scale(0.896 1)" text-anchor="middle">2019-06</text>
<text transform="translate(390 506.9) scale(0.896 1)" text-anchor="middle">2019-07</text>
<text transform="translate(474 506.9) scale(0.896 1)" text-anchor="middle">2019-08</text>
<text transform="translate(38.5 490.1) scale(0.896 1)" text-anchor="end">0</text>
<text transform="translate(38.5 451.6) scale(0.896 1)" text-anchor="end">5</text>
<text transform="translate(38.5 413.6) scale(0.896 1)" text-anchor="end">10</text>
<text transform="translate(38.5 375.6) scale(0.896 1)" text-anchor="end">15</text>
<!-- panel 4 -->
<path d="M59.5 527.2V666M143.5 527.2V666M225 527.2V666M309 527.2V666M390.5 527.2V666M474.5 527.2V666M45.5 659.5H491M45.5 621.5H491M45.5 583.5H491M45.5 545.35H491" stroke="#b0b0b0" stroke-width="0.8" fill="none"/>
<g clip-path="url(#c3)">
<path d="M61 658.4L62.5 658.36L64 658.31L65.5 658.26L67 658.21L68.51 658.15L70.01 658.1L71.51 658.04L73.01 657.98L74.51 657.92L76.01 657.85L77.51 657.79L79.01 657.72L80.51 657.65L82.02 657.58L83.52 657.5L85.02 657.43L86.52 657.35L88.02 657.28L89.52 657.2L91.02 657.12L92.52 657.03L94.03 656.95L95.53 656.87L97.03 656.78L98.53 656.7L100.03 656.61L101.53 656.52L103.03 656.43L104.53 656.34L106.03 656.25L107.54 656.15L109.04 656.06L110.54 655.97L112.04 655.87L113.54 655.76L115.04 655.66L116.54 655.54L118.04 655.43L119.54 655.31L121.05 655.18L122.55 655.06L124.05 654.93L125.55 654.8L127.05 654.66L128.55 654.53L130.05 654.39L131.55 654.25L133.06 654.12L134.56 653.98L136.06 653.84L137.56 653.7L139.06 653.56L140.56 653.42L142.06 653.29L143.56 653.15L145.06 653.02L146.57 652.89L148.07 652.76L149.57 652.64L151.07 652.51L152.57 652.39L154.07 652.27L155.57 652.16L157.07 652.04L158.57 651.93L160.08 651.81L161.58 651.69L163.08 651.58L164.58 651.46L166.08 651.33L167.58 651.21L169.08 651.08L170.58 650.95L172.09 650.81L173.59 650.67L175.09 650.53L176.59 650.38L178.09 650.23L179.59 650.08L181.09 649.92L182.59 649.77L184.09 649.61L185.6 649.46L187.1 649.3L188.6 649.15L190.1 648.99L191.6 648.82L193.1 648.62L194.6 648.41L196.1 648.2L197.6 647.99L199.11 647.8L200.61 647.64L202.11 647.51L203.61 647.43L205.11 647.4L206.61 647.4L208.11 647.4L209.61 647.4L211.11 647.4L212.62 647.4L214.12 647.4L215.62 647.4L217.12 647.4L218.62 647.4L220.12 647.4L221.62 647.4L223.12 647.4L224.63 647.4L226.13 647.4L227.63 647.41L229.13 647.43L230.63 647.45L232.13 647.48L233.63 647.51L235.13 647.55L236.63 647.59L238.14 647.62L239.64 647.67L241.14 647.71L242.64 647.75L244.14 647.78L245.64 647.82L247.14 647.85L248.64 647.88L250.14 647.9L251.65 647.92L253.15 647.94L254.65 647.96L256.15 647.97L257.65 647.98L259.15 648L260.65 648.01L262.15 648.02L263.66 648.04L265.16 648.05L266.66 648.06L268.16 648.07L269.66 648.08L271.16 648.1L272.66 648.11L274.16 648.13L275.66 648.14L277.17 648.16L278.67 648.18L280.17 648.2L281.67 648.23L283.17 648.25L284.67 648.28L286.17 648.31L287.67 648.35L289.17 648.39L290.68 648.42L292.18 648.46L293.68 648.51L295.18 648.55L296.68 648.59L298.18 648.64L299.68 648.68L301.18 648.73L302.69 648.78L304.19 648.82L305.69 648.87L307.19 648.92L308.69 648.96L310.19 649.01L311.69 649.05L313.19 649.1L314.69 649.15L316.2 649.19L317.7 649.24L319.2 649.29L320.7 649.34L322.2 649.4L323.7 649.45L325.2 649.5L326.7 649.55L328.2 649.6L329.71 649.66L331.21 649.71L332.71 649.76L334.21 649.81L335.71 649.86L337.21 649.91L338.71 649.96L340.21 650.01L341.71 650.05L343.22 650.09L344.72 650.14L346.22 650.18L347.72 650.21L349.22 650.25L350.72 650.29L352.22 650.34L353.72 650.38L355.23 650.43L356.73 650.48L358.23 650.53L359.73 650.59L361.23 650.65L362.73 650.73L364.23 650.81L365.73 650.9L367.23 650.99L368.74 651.1L370.24 651.22L371.74 651.35L373.24 651.51L374.74 651.68L376.24 651.87L377.74 652.07L379.24 652.29L380.74 652.52L382.25 652.79L383.75 653.1L385.25 653.42L386.75 653.75L388.25 654.06L389.75 654.36L391.25 654.62L392.75 654.87L394.26 655.11L395.76 655.35L397.26 655.58L398.76 655.81L400.26 656.04L401.76 656.28L403.26 656.52L404.76 656.76L406.26 656.99L407.77 657.21L409.27 657.41L410.77 657.59L412.27 657.77L413.77 657.94L415.27 658.09L416.77 658.24L418.27 658.37L419.77 658.48L421.28 658.58L422.78 658.68L424.28 658.77L425.78 658.85L427.28 658.92L428.78 658.97L430.28 659L431.78 659.03L433.29 659.05L434.79 659.07L436.29 659.09L437.79 659.11L439.29 659.13L440.79 659.14L442.29 659.15L443.79 659.17L445.29 659.18L446.8 659.18L448.3 659.19L449.8 659.2L451.3 659.2L452.8 659.2L452.8 659.2L455.6 659.5L467 659.5" stroke="#661100" stroke-width="1.5" fill="none" stroke-linejoin="round"/>
<path d="M61 659.2L62.5 659.2L64 659.2L65.5 659.19L67 659.18L68.51 659.17L70.01 659.16L71.51 659.15L73.01 659.14L74.51 659.12L76.01 659.1L77.51 659.09L79.01 659.06L80.51 659.04L82.02 659.02L83.52 658.99L85.02 658.97L86.52 658.94L88.02 658.91L89.52 658.88L91.02 658.85L92.52 658.82L94.03 658.79L95.53 658.76L97.03 658.72L98.53 658.69L100.03 658.65L101.53 658.62L103.03 658.58L104.53 658.54L106.03 658.5L107.54 658.46L109.04 658.43L110.54 658.39L112.04 658.34L113.54 658.29L115.04 658.23L116.54 658.17L118.04 658.1L119.54 658.03L121.05 657.95L122.55 657.87L124.05 657.79L125.55 657.7L127.05 657.61L128.55 657.51L130.05 657.41L131.55 657.31L133.06 657.21L134.56 657.11L136.06 657L137.56 656.89L139.06 656.79L140.56 656.68L142.06 656.57L143.56 656.46L145.06 656.35L146.57 656.24L148.07 656.14L149.57 656.03L151.07 655.93L152.57 655.82L154.07 655.71L155.57 655.6L157.07 655.49L158.57 655.38L160.08 655.27L161.58 655.15L163.08 655.02L164.58 654.9L166.08 654.77L167.58 654.63L169.08 654.49L170.58 654.34L172.09 654.2L173.59 654.05L175.09 653.89L176.59 653.71L178.09 653.51L179.59 653.27L181.09 652.97L182.59 652.54L184.09 652.03L185.6 651.48L187.1 650.92L188.6 650.39L190.1 649.84L191.6 649.26L193.1 648.7L194.6 648.16L196.1 647.67L197.6 647.24L199.11 646.86L200.61 646.49L202.11 646.12L203.61 645.71L205.11 645.27L206.61 644.79L208.11 644.29L209.61 643.75L211.11 643.16L212.62 642.52L214.12 641.84L215.62 641.13L217.12 640.4L218.62 639.67L220.12 638.94L221.62 638.22L223.12 637.48L224.63 636.73L226.13 635.98L227.63 635.22L229.13 634.45L230.63 633.67L232.13 632.88L233.63 632.08L235.13 631.27L236.63 630.46L238.14 629.67L239.64 628.89L241.14 628.12L242.64 627.38L244.14 626.64L245.64 625.91L247.14 625.18L248.64 624.46L250.14 623.73L251.65 622.99L253.15 622.25L254.65 621.51L256.15 620.78L257.65 620.07L259.15 619.38L260.65 618.72L262.15 618.09L263.66 617.48L265.16 616.89L266.66 616.31L268.16 615.73L269.66 615.14L271.16 614.53L272.66 613.92L274.16 613.3L275.66 612.69L277.17 612.09L278.67 611.5L280.17 610.94L281.67 610.4L283.17 609.87L284.67 609.36L286.17 608.86L287.67 608.37L289.17 607.87L290.68 607.38L292.18 606.88L293.68 606.39L295.18 605.9L296.68 605.42L298.18 604.95L299.68 604.5L301.18 604.05L302.69 603.6L304.19 603.17L305.69 602.74L307.19 602.33L308.69 601.93L310.19 601.55L311.69 601.19L313.19 600.82L314.69 600.48L316.2 600.14L317.7 599.83L319.2 599.54L320.7 599.28L322.2 599.02L323.7 598.77L325.2 598.53L326.7 598.32L328.2 598.15L329.71 598.02L331.21 597.93L332.71 597.84L334.21 597.76L335.71 597.69L337.21 597.64L338.71 597.61L340.21 597.6L341.71 597.62L343.22 597.65L344.72 597.71L346.22 597.78L347.72 597.86L349.22 597.95L350.72 598.05L352.22 598.19L353.72 598.37L355.23 598.58L356.73 598.82L358.23 599.08L359.73 599.35L361.23 599.64L362.73 599.98L364.23 600.38L365.73 600.84L367.23 601.41L368.74 602.04L370.24 602.7L371.74 603.39L373.24 604.12L374.74 604.87L376.24 605.64L377.74 606.43L379.24 607.22L380.74 607.97L382.25 608.69L383.75 609.4L385.25 610.12L386.75 610.87L388.25 611.61L389.75 612.3L391.25 612.91L392.75 613.49L394.26 613.99L395.76 614.38L397.26 614.69L398.76 614.96L400.26 615.25L401.76 615.57L403.26 615.89L404.76 616.22L406.26 616.54L407.77 616.83L409.27 617.09L410.77 617.31L412.27 617.5L413.77 617.68L415.27 617.85L416.77 618L418.27 618.15L419.77 618.28L421.28 618.4L422.78 618.52L424.28 618.62L425.78 618.72L427.28 618.82L428.78 618.92L430.28 619.02L431.78 619.15L433.29 619.27L434.79 619.37L436.29 619.4L437.79 619.4L439.29 619.4L440.79 619.4L442.29 619.4L443.79 619.4L445.29 619.4L446.8 619.4L448.3 619.4L449.8 619.4L451.3 619.4L452.8 619.4L452.8 619.4L455.6 659.5L467 659.5" stroke="#44AA99" stroke-width="1.5" fill="none" stroke-linejoin="round"/>
<path d="M61 659.9L62.5 659.9L64 659.9L65.5 659.9L67 659.9L68.51 659.9L70.01 659.9L71.51 659.9L73.01 659.9L74.51 659.9L76.01 659.9L77.51 659.9L79.01 659.9L80.51 659.9L82.02 659.9L83.52 659.9L85.02 659.9L86.52 659.9L88.02 659.9L89.52 659.9L91.02 659.9L92.52 659.9L94.03 659.9L95.53 659.9L97.03 659.9L98.53 659.9L100.03 659.9L101.53 659.9L103.03 659.9L104.53 659.9L106.03 659.9L107.54 659.9L109.04 659.9L110.54 659.9L112.04 659.9L113.54 659.9L115.04 659.9L116.54 659.9L118.04 659.9L119.54 659.9L121.05 659.9L122.55 659.9L124.05 659.9L125.55 659.9L127.05 659.9L128.55 659.9L130.05 659.9L131.55 659.9L133.06 659.9L134.56 659.9L136.06 659.9L137.56 659.9L139.06 659.9L140.56 659.9L142.06 659.9L143.56 659.9L145.06 659.9L146.57 659.9L148.07 659.9L149.57 659.9L151.07 659.9L152.57 659.9L154.07 659.9L155.57 659.9L157.07 659.9L158.57 659.9L160.08 659.9L161.58 659.9L163.08 659.9L164.58 659.9L166.08 659.9L167.58 659.9L169.08 659.9L170.58 659.9L172.09 659.9L173.59 659.9L175.09 659.9L176.59 659.9L178.09 659.9L179.59 659.9L181.09 659.9L182.59 659.9L184.09 659.9L185.6 659.9L187.1 659.9L188.6 659.9L190.1 659.9L191.6 659.9L193.1 659.9L194.6 659.9L196.1 659.9L197.6 659.9L199.11 659.9L200.61 659.9L202.11 659.9L203.61 659.9L205.11 659.9L206.61 659.9L208.11 659.9L209.61 659.9L211.11 659.9L212.62 659.9L214.12 659.9L215.62 659.9L217.12 659.9L218.62 659.9L220.12 659.9L221.62 659.9L223.12 659.9L224.63 659.9L226.13 659.9L227.63 659.9L229.13 659.9L230.63 659.9L232.13 659.9L233.63 659.9L235.13 659.9L236.63 659.9L238.14 659.9L239.64 659.9L241.14 659.89L242.64 659.84L244.14 659.75L245.64 659.64L247.14 659.51L248.64 659.36L250.14 659.2L251.65 659.04L253.15 658.86L254.65 658.63L256.15 658.36L257.65 658.07L259.15 657.77L260.65 657.47L262.15 657.17L263.66 656.86L265.16 656.53L266.66 656.19L268.16 655.84L269.66 655.48L271.16 655.1L272.66 654.7L274.16 654.27L275.66 653.84L277.17 653.4L278.67 652.97L280.17 652.55L281.67 652.16L283.17 651.79L284.67 651.41L286.17 651.04L287.67 650.65L289.17 650.24L290.68 649.8L292.18 649.32L293.68 648.82L295.18 648.31L296.68 647.78L298.18 647.24L299.68 646.71L301.18 646.18L302.69 645.65L304.19 645.12L305.69 644.58L307.19 644.03L308.69 643.48L310.19 642.93L311.69 642.36L313.19 641.78L314.69 641.19L316.2 640.61L317.7 640.04L319.2 639.48L320.7 638.96L322.2 638.49L323.7 638.04L325.2 637.6L326.7 637.14L328.2 636.66L329.71 636.11L331.21 635.49L332.71 634.79L334.21 634.02L335.71 633.21L337.21 632.36L338.71 631.44L340.21 630.46L341.71 629.39L343.22 628.23L344.72 627.03L346.22 625.8L347.72 624.58L349.22 623.39L350.72 622.26L352.22 621.15L353.72 620.05L355.23 618.96L356.73 617.89L358.23 616.83L359.73 615.79L361.23 614.77L362.73 613.79L364.23 612.82L365.73 611.86L367.23 610.89L368.74 609.88L370.24 608.83L371.74 607.73L373.24 606.58L374.74 605.41L376.24 604.22L377.74 603.01L379.24 601.81L380.74 600.6L382.25 599.36L383.75 598.1L385.25 596.84L386.75 595.58L388.25 594.36L389.75 593.19L391.25 592.06L392.75 590.95L394.26 589.86L395.76 588.8L397.26 587.77L398.76 586.78L400.26 585.84L401.76 584.92L403.26 584.01L404.76 583.13L406.26 582.3L407.77 581.52L409.27 580.81L410.77 580.19L412.27 579.59L413.77 579.03L415.27 578.51L416.77 578.04L418.27 577.61L419.77 577.25L421.28 576.93L422.78 576.62L424.28 576.32L425.78 576.07L427.28 575.85L428.78 575.69L430.28 575.59L431.78 575.51L433.29 575.45L434.79 575.41L436.29 575.4L437.79 575.4L439.29 575.4L440.79 575.4L442.29 575.4L443.79 575.4L445.29 575.4L446.8 575.4L448.3 575.4L449.8 575.4L451.3 575.4L452.8 575.4L452.8 575.4L455.8 659.5L467 659.5" stroke="#CC6677" stroke-width="1.5" fill="none" stroke-linejoin="round"/>
<path d="M61 658.8L62.51 658.78L64.01 658.75L65.52 658.72L67.02 658.68L68.53 658.65L70.03 658.61L71.54 658.57L73.04 658.53L74.55 658.49L76.05 658.44L77.56 658.39L79.06 658.34L80.57 658.29L82.08 658.24L83.58 658.18L85.09 658.13L86.59 658.07L88.1 658.01L89.6 657.95L91.11 657.88L92.61 657.82L94.12 657.75L95.62 657.69L97.13 657.62L98.63 657.55L100.14 657.48L101.65 657.41L103.15 657.34L104.66 657.26L106.16 657.19L107.67 657.12L109.17 657.04L110.68 656.97L112.18 656.89L113.69 656.8L115.19 656.72L116.7 656.63L118.2 656.53L119.71 656.43L121.22 656.33L122.72 656.23L124.23 656.12L125.73 656.01L127.24 655.9L128.74 655.78L130.25 655.67L131.75 655.55L133.26 655.43L134.76 655.3L136.27 655.18L137.77 655.05L139.28 654.93L140.79 654.8L142.29 654.67L143.8 654.54L145.3 654.41L146.81 654.28L148.31 654.15L149.82 654.02L151.32 653.88L152.83 653.75L154.33 653.61L155.84 653.47L157.34 653.33L158.85 653.18L160.36 653.03L161.86 652.88L163.37 652.72L164.87 652.56L166.38 652.4L167.88 652.24L169.39 652.07L170.89 651.9L172.4 651.72L173.9 651.53L175.41 651.34L176.91 651.14L178.42 650.94L179.93 650.74L181.43 650.53L182.94 650.33L184.44 650.13L185.95 649.92L187.45 649.73L188.96 649.53L190.46 649.34L191.97 649.15L193.47 648.97L194.98 648.78L196.48 648.6L197.99 648.41L199.5 648.23L201 648.05L202.51 647.88L204.01 647.71L205.52 647.54L207.02 647.38L208.53 647.22L210.03 647.05L211.54 646.9L213.04 646.74L214.55 646.58L216.05 646.43L217.56 646.28L219.07 646.14L220.57 645.99L222.08 645.86L223.58 645.72L225.09 645.59L226.59 645.47L228.1 645.35L229.6 645.23L231.11 645.12L232.61 645.01L234.12 644.91L235.62 644.8L237.13 644.7L238.64 644.6L240.14 644.5L241.65 644.39L243.15 644.29L244.66 644.19L246.16 644.08L247.67 643.97L249.17 643.86L250.68 643.75L252.18 643.62L253.69 643.48L255.19 643.34L256.7 643.22L258.21 643.1L259.71 643.01L261.22 642.94L262.72 642.88L264.23 642.81L265.73 642.75L267.24 642.69L268.74 642.63L270.25 642.58L271.75 642.53L273.26 642.49L274.76 642.46L276.27 642.43L277.78 642.41L279.28 642.4L280.79 642.4L282.29 642.4L283.8 642.4L285.3 642.4L286.81 642.4L288.31 642.4L289.82 642.4L291.32 642.4L292.83 642.4L294.33 642.4L295.84 642.4L297.35 642.4L298.85 642.4L300.36 642.4L301.86 642.4L303.37 642.41L304.87 642.41L306.38 642.42L307.88 642.44L309.39 642.45L310.89 642.47L312.4 642.49L313.9 642.51L315.41 642.53L316.92 642.55L318.42 642.57L319.93 642.6L321.43 642.63L322.94 642.68L324.44 642.73L325.95 642.8L327.45 642.87L328.96 642.96L330.46 643.04L331.97 643.13L333.47 643.23L334.98 643.32L336.49 643.41L337.99 643.49L339.5 643.57L341 643.65L342.51 643.73L344.01 643.8L345.52 643.88L347.02 643.95L348.53 644.03L350.03 644.1L351.54 644.18L353.04 644.25L354.55 644.33L356.06 644.4L357.56 644.48L359.07 644.55L360.57 644.63L362.08 644.7L363.58 644.78L365.09 644.85L366.59 644.93L368.1 645L369.6 645.08L371.11 645.16L372.61 645.23L374.12 645.31L375.63 645.38L377.13 645.46L378.64 645.53L380.14 645.61L381.65 645.68L383.15 645.76L384.66 645.84L386.16 645.92L387.67 645.99L389.17 646.07L390.68 646.15L392.18 646.23L393.69 646.3L395.2 646.38L396.7 646.45L398.21 646.52L399.71 646.59L401.22 646.65L402.72 646.72L404.23 646.78L405.73 646.84L407.24 646.9L408.74 646.96L410.25 647.02L411.75 647.08L413.26 647.14L414.77 647.2L416.27 647.26L417.78 647.31L419.28 647.37L420.79 647.43L422.29 647.5L423.8 647.57L425.3 647.65L426.81 647.72L428.31 647.79L429.82 647.86L431.32 647.91L432.83 647.96L434.34 647.99L435.84 648L437.35 648L438.85 648L440.36 648L441.86 648L443.37 648L444.87 648L446.38 648L447.88 648L449.39 648L450.89 648L452.4 648L452.4 648L455.2 659.5L467 659.5" stroke="#6699CC" stroke-width="1.5" fill="none" stroke-linejoin="round"/>
<path d="M61 657.7L62.5 657.7L64 657.69L65.5 657.67L67 657.65L68.51 657.62L70.01 657.59L71.51 657.55L73.01 657.51L74.51 657.46L76.01 657.41L77.51 657.35L79.01 657.29L80.51 657.22L82.02 657.15L83.52 657.08L85.02 657L86.52 656.92L88.02 656.83L89.52 656.74L91.02 656.65L92.52 656.55L94.03 656.46L95.53 656.36L97.03 656.25L98.53 656.15L100.03 656.04L101.53 655.94L103.03 655.83L104.53 655.71L106.03 655.6L107.54 655.49L109.04 655.37L110.54 655.26L112.04 655.12L113.54 654.97L115.04 654.79L116.54 654.6L118.04 654.39L119.54 654.18L121.05 653.96L122.55 653.73L124.05 653.5L125.55 653.26L127.05 653.03L128.55 652.81L130.05 652.59L131.55 652.38L133.06 652.17L134.56 651.96L136.06 651.75L137.56 651.53L139.06 651.32L140.56 651.1L142.06 650.88L143.56 650.65L145.06 650.42L146.57 650.18L148.07 649.93L149.57 649.67L151.07 649.4L152.57 649.11L154.07 648.79L155.57 648.47L157.07 648.15L158.57 647.85L160.08 647.59L161.58 647.36L163.08 647.16L164.58 646.98L166.08 646.79L167.58 646.59L169.08 646.36L170.58 646.09L172.09 645.75L173.59 645.37L175.09 644.94L176.59 644.49L178.09 644.02L179.59 643.53L181.09 643.04L182.59 642.5L184.09 641.94L185.6 641.36L187.1 640.76L188.6 640.16L190.1 639.56L191.6 638.97L193.1 638.36L194.6 637.76L196.1 637.14L197.6 636.52L199.11 635.88L200.61 635.24L202.11 634.58L203.61 633.9L205.11 633.21L206.61 632.53L208.11 631.84L209.61 631.17L211.11 630.52L212.62 629.88L214.12 629.25L215.62 628.62L217.12 627.99L218.62 627.33L220.12 626.64L221.62 625.92L223.12 625.17L224.63 624.39L226.13 623.61L227.63 622.82L229.13 622.04L230.63 621.28L232.13 620.52L233.63 619.76L235.13 619L236.63 618.25L238.14 617.51L239.64 616.77L241.14 616.06L242.64 615.37L244.14 614.69L245.64 614.01L247.14 613.33L248.64 612.64L250.14 611.93L251.65 611.19L253.15 610.42L254.65 609.64L256.15 608.86L257.65 608.11L259.15 607.39L260.65 606.71L262.15 606.06L263.66 605.42L265.16 604.81L266.66 604.22L268.16 603.65L269.66 603.12L271.16 602.61L272.66 602.14L274.16 601.69L275.66 601.26L277.17 600.83L278.67 600.39L280.17 599.95L281.67 599.5L283.17 599.05L284.67 598.6L286.17 598.15L287.67 597.7L289.17 597.25L290.68 596.8L292.18 596.35L293.68 595.9L295.18 595.45L296.68 595L298.18 594.55L299.68 594.1L301.18 593.64L302.69 593.18L304.19 592.72L305.69 592.25L307.19 591.8L308.69 591.37L310.19 590.95L311.69 590.53L313.19 590.1L314.69 589.7L316.2 589.34L317.7 589.05L319.2 588.82L320.7 588.62L322.2 588.45L323.7 588.3L325.2 588.19L326.7 588.08L328.2 587.99L329.71 587.91L331.21 587.84L332.71 587.78L334.21 587.72L335.71 587.68L337.21 587.64L338.71 587.61L340.21 587.6L341.71 587.63L343.22 587.69L344.72 587.77L346.22 587.88L347.72 588L349.22 588.13L350.72 588.27L352.22 588.43L353.72 588.64L355.23 588.87L356.73 589.13L358.23 589.42L359.73 589.74L361.23 590.11L362.73 590.58L364.23 591.12L365.73 591.68L367.23 592.31L368.74 592.99L370.24 593.72L371.74 594.51L373.24 595.36L374.74 596.24L376.24 597.16L377.74 598.12L379.24 599.1L380.74 600.1L382.25 601.11L383.75 602.14L385.25 603.17L386.75 604.21L388.25 605.24L389.75 606.24L391.25 607.21L392.75 608.16L394.26 609.02L395.76 609.75L397.26 610.37L398.76 610.94L400.26 611.5L401.76 612.08L403.26 612.66L404.76 613.24L406.26 613.79L407.77 614.31L409.27 614.79L410.77 615.21L412.27 615.62L413.77 616.01L415.27 616.38L416.77 616.71L418.27 617.01L419.77 617.27L421.28 617.48L422.78 617.66L424.28 617.83L425.78 617.98L427.28 618.13L428.78 618.28L430.28 618.43L431.78 618.62L433.29 618.81L434.79 618.96L436.29 619L437.79 619L439.29 619L440.79 619L442.29 619L443.79 619L445.29 619L446.8 619L448.3 619L449.8 619L451.3 619L452.8 619L452.8 619L455.6 659.5L467 659.5" stroke="#332288" stroke-width="1.5" fill="none" stroke-linejoin="round"/>
<path d="M330.5 527.2V666" stroke="#555" stroke-width="1" stroke-dasharray="3.75 1.65" fill="none"/>
<circle cx="75.4" cy="659.6" r="3" fill="#CC6677"/>
<circle cx="113.9" cy="659.8" r="3" fill="#CC6677"/>
<circle cx="151.3" cy="659.4" r="3" fill="#CC6677"/>
<circle cx="208.4" cy="659.4" r="3" fill="#CC6677"/>
<circle cx="252.2" cy="659.4" r="3" fill="#CC6677"/>
<circle cx="287.2" cy="647.3" r="3" fill="#CC6677"/>
<circle cx="325.3" cy="635.9" r="3" fill="#CC6677"/>
<path d="M363.4 590.4V603" stroke="#CC6677" stroke-width="1.5" fill="none"/><path d="M361.4 590.4h4M361.4 603h4" stroke="#CC6677" stroke-width="1" fill="none"/>
<circle cx="363.4" cy="596.6" r="3" fill="#CC6677"/>
<path d="M423 533V570.4" stroke="#CC6677" stroke-width="1.5" fill="none"/><path d="M421 533h4M421 570.4h4" stroke="#CC6677" stroke-width="1" fill="none"/>
<circle cx="423" cy="552" r="3" fill="#CC6677"/>
<circle cx="75.4" cy="657.4" r="3" fill="#661100"/>
<circle cx="208.4" cy="644.4" r="3" fill="#661100"/>
<path d="M252.2 638.6V645" stroke="#661100" stroke-width="1.5" fill="none"/><path d="M250.2 638.6h4M250.2 645h4" stroke="#661100" stroke-width="1" fill="none"/>
<circle cx="252.2" cy="641.6" r="3" fill="#661100"/>
<circle cx="287.2" cy="644.2" r="3" fill="#661100"/>
<circle cx="325.4" cy="646.8" r="3" fill="#661100"/>
<circle cx="363.4" cy="647.4" r="3" fill="#661100"/>
<circle cx="423" cy="659.6" r="3" fill="#661100"/>
<circle cx="75.4" cy="659.2" r="3" fill="#44AA99"/>
<circle cx="113.9" cy="659.2" r="3" fill="#44AA99"/>
<circle cx="208.4" cy="650" r="3" fill="#44AA99"/>
<path d="M252.2 617.6V631.4" stroke="#44AA99" stroke-width="1.5" fill="none"/><path d="M250.2 617.6h4M250.2 631.4h4" stroke="#44AA99" stroke-width="1" fill="none"/>
<circle cx="252.2" cy="624.6" r="3" fill="#44AA99"/>
<path d="M287.2 601V615" stroke="#44AA99" stroke-width="1.5" fill="none"/><path d="M285.2 601h4M285.2 615h4" stroke="#44AA99" stroke-width="1" fill="none"/>
<circle cx="287.2" cy="608.2" r="3" fill="#44AA99"/>
<path d="M325.4 589V605" stroke="#44AA99" stroke-width="1.5" fill="none"/><path d="M323.4 589h4M323.4 605h4" stroke="#44AA99" stroke-width="1" fill="none"/>
<circle cx="325.4" cy="597" r="3" fill="#44AA99"/>
<path d="M363.4 589V606.4" stroke="#44AA99" stroke-width="1.5" fill="none"/><path d="M361.4 589h4M361.4 606.4h4" stroke="#44AA99" stroke-width="1" fill="none"/>
<circle cx="363.4" cy="597.8" r="3" fill="#44AA99"/>
<path d="M423 607.4V624" stroke="#44AA99" stroke-width="1.5" fill="none"/><path d="M421 607.4h4M421 624h4" stroke="#44AA99" stroke-width="1" fill="none"/>
<circle cx="423" cy="616" r="3" fill="#44AA99"/>
<circle cx="113.9" cy="656.4" r="3" fill="#6699CC"/>
<circle cx="151.3" cy="653" r="3" fill="#6699CC"/>
<path d="M208.4 645.8V649.4" stroke="#6699CC" stroke-width="1.5" fill="none"/><path d="M206.4 645.8h4M206.4 649.4h4" stroke="#6699CC" stroke-width="1" fill="none"/>
<circle cx="208.4" cy="647.6" r="3" fill="#6699CC"/>
<path d="M265.6 639.4V649" stroke="#6699CC" stroke-width="1.5" fill="none"/><path d="M263.6 639.4h4M263.6 649h4" stroke="#6699CC" stroke-width="1" fill="none"/>
<circle cx="265.6" cy="644.4" r="3" fill="#6699CC"/>
<path d="M322.6 631.4V651" stroke="#6699CC" stroke-width="1.5" fill="none"/><path d="M320.6 631.4h4M320.6 651h4" stroke="#6699CC" stroke-width="1" fill="none"/>
<circle cx="322.6" cy="641.4" r="3" fill="#6699CC"/>
<path d="M379.8 638.6V650.4" stroke="#6699CC" stroke-width="1.5" fill="none"/><path d="M377.8 638.6h4M377.8 650.4h4" stroke="#6699CC" stroke-width="1" fill="none"/>
<circle cx="379.8" cy="644.6" r="3" fill="#6699CC"/>
<path d="M417.6 633.2V651.6" stroke="#6699CC" stroke-width="1.5" fill="none"/><path d="M415.6 633.2h4M415.6 651.6h4" stroke="#6699CC" stroke-width="1" fill="none"/>
<circle cx="417.6" cy="642.4" r="3" fill="#6699CC"/>
<circle cx="151.3" cy="649.4" r="3" fill="#332288"/>
</g>
<rect x="45.5" y="527.2" width="445.5" height="138.8" fill="none" stroke="#000" stroke-width="0.8"/>
<path d="M59.5 666v3.5M143.5 666v3.5M225 666v3.5M309 666v3.5M390.5 666v3.5M474.5 666v3.5M45.5 659.5h-3.5M45.5 621.5h-3.5M45.5 583.5h-3.5M45.5 545.35h-3.5" stroke="#000" stroke-width="0.8" fill="none"/>
<text transform="translate(59 680.8) scale(0.896 1)" text-anchor="middle">2022-03</text>
<text transform="translate(143 680.8) scale(0.896 1)" text-anchor="middle">2022-04</text>
<text transform="translate(224.5 680.8) scale(0.896 1)" text-anchor="middle">2022-05</text>
<text transform="translate(308.5 680.8) scale(0.896 1)" text-anchor="middle">2022-06</text>
<text transform="translate(390 680.8) scale(0.896 1)" text-anchor="middle">2022-07</text>
<text transform="translate(474 680.8) scale(0.896 1)" text-anchor="middle">2022-08</text>
<text transform="translate(38.5 663.6) scale(0.896 1)" text-anchor="end">0</text>
<text transform="translate(38.5 625.6) scale(0.896 1)" text-anchor="end">5</text>
<text transform="translate(38.5 587.6) scale(0.896 1)" text-anchor="end">10</text>
<text transform="translate(38.5 549.45) scale(0.896 1)" text-anchor="end">15</text>
<!-- legend -->
<rect x="50.3" y="10.3" width="90.3" height="77.7" rx="2" ry="2" fill="#fff" fill-opacity="0.8" stroke="#ccc" stroke-width="0.8"/>
<path d="M53.8 18.8H75" stroke="#661100" stroke-width="1.5" fill="none"/>
<text transform="translate(82.6 22.4) scale(0.896 1)">Leaf</text>
<path d="M53.8 33.6H75" stroke="#44AA99" stroke-width="1.5" fill="none"/>
<text transform="translate(82.6 37.2) scale(0.896 1)">Stem</text>
<path d="M53.8 48.7H75" stroke="#CC6677" stroke-width="1.5" fill="none"/>
<text transform="translate(82.6 52.3) scale(0.896 1)">SOrg</text>
<path d="M53.8 63.2H75" stroke="#6699CC" stroke-width="1.5" fill="none"/>
<text transform="translate(82.6 66.8) scale(0.896 1)">Root</text>
<path d="M53.8 78.1H75" stroke="#332288" stroke-width="1.5" fill="none"/>
<text transform="translate(82.6 81.7) scale(0.896 1)">Leaf+Stem</text>
<text transform="translate(14.2 353.7) rotate(-90) scale(0.914 1)" text-anchor="middle">Organ dry matter (t ha<tspan dy="-4.1" dx="6.18" font-size="7.8">1</tspan><tspan dy="4.1" dx="0.6">)</tspan></text>
<path d="M7.85 289.5V293.6" stroke="#000" stroke-width="0.75" fill="none"/>
</svg>
</body>
</html>
